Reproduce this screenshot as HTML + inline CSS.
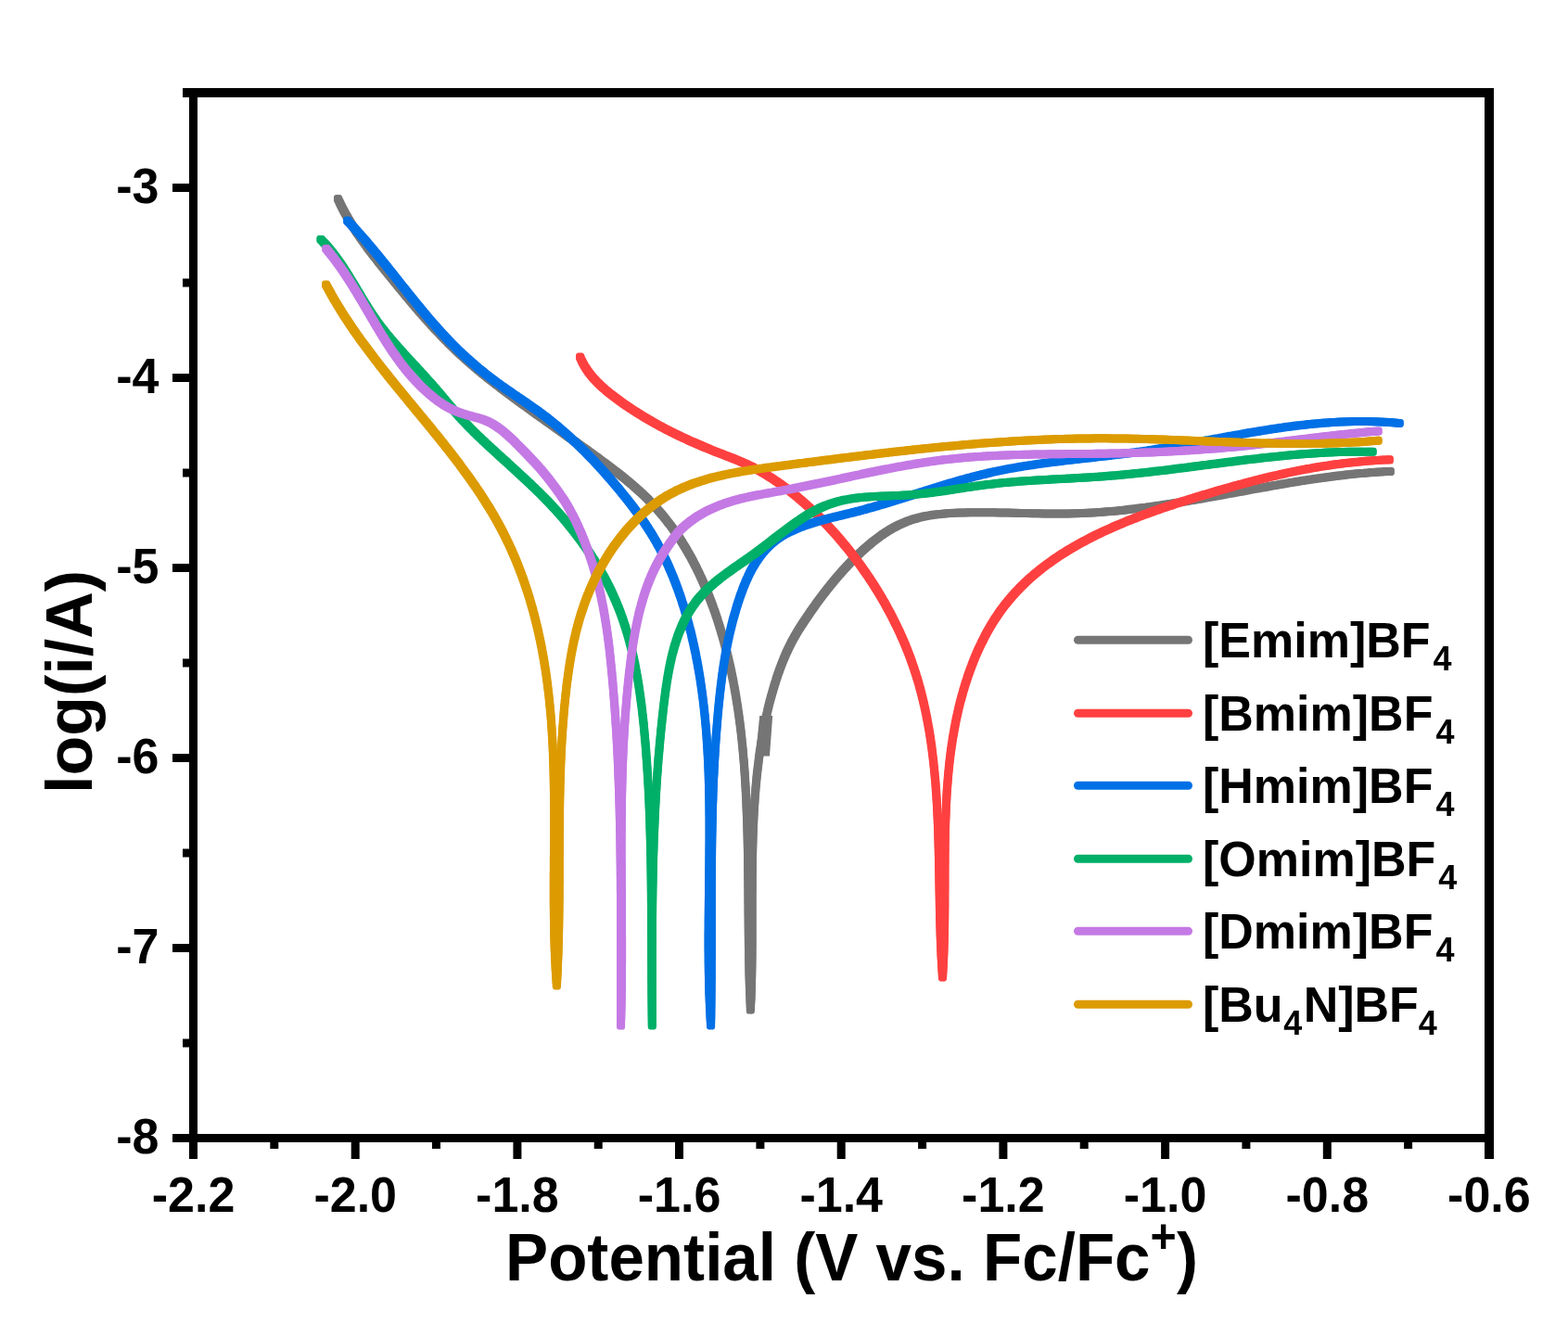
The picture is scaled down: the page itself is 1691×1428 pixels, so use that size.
<!DOCTYPE html>
<html><head><meta charset="utf-8"><style>
html,body{margin:0;padding:0;background:#fff;}
svg{display:block;}
text{font-family:"Liberation Sans", Arial, sans-serif;font-weight:bold;fill:#000;}
</style></head><body>
<svg width="1691" height="1428" viewBox="0 0 1691 1428">
<rect width="1691" height="1428" fill="#fff"/>
<defs>
<path id="c_gray" d="M364.5,214.6 365.6,216.9 366.7,219.2 367.8,221.4 368.9,223.7 370.0,225.9 371.2,228.1 372.4,230.3 373.6,232.5 374.9,234.7 376.1,236.8 377.4,239.0 378.7,241.1 380.0,243.3 381.4,245.4 382.7,247.5 384.1,249.6 385.5,251.7 386.9,253.7 388.3,255.8 389.8,257.8 391.2,259.9 392.7,261.9 394.2,264.0 395.6,266.0 397.1,268.0 398.6,270.0 400.2,272.0 401.7,274.0 403.2,276.0 404.8,277.9 406.3,279.9 407.8,281.9 409.4,283.9 411.0,285.8 412.5,287.8 414.1,289.7 415.7,291.7 417.2,293.6 418.8,295.6 420.4,297.5 422.0,299.5 423.6,301.4 425.1,303.4 426.7,305.3 428.3,307.2 429.9,309.2 431.5,311.1 433.1,313.1 434.7,315.0 436.3,316.9 437.9,318.9 439.5,320.8 441.1,322.7 442.7,324.6 444.3,326.5 445.9,328.5 447.5,330.4 449.2,332.3 450.8,334.2 452.4,336.1 454.1,338.0 455.7,339.9 457.4,341.7 459.0,343.6 460.7,345.5 462.4,347.4 464.1,349.2 465.7,351.1 467.4,352.9 469.1,354.8 470.9,356.6 472.6,358.4 474.3,360.2 476.0,362.0 477.8,363.9 479.5,365.7 481.3,367.4 483.0,369.2 484.8,371.0 486.6,372.8 488.4,374.5 490.2,376.2 492.0,378.0 493.8,379.7 495.6,381.4 497.5,383.1 499.3,384.8 501.2,386.5 503.1,388.2 504.9,389.8 506.8,391.5 508.7,393.1 510.6,394.7 512.5,396.4 514.4,398.0 516.4,399.6 518.3,401.2 520.2,402.8 522.2,404.4 524.1,405.9 526.1,407.5 528.1,409.1 530.0,410.6 532.0,412.1 534.0,413.7 536.0,415.2 537.9,416.7 539.9,418.3 541.9,419.8 543.9,421.3 545.9,422.8 547.9,424.3 550.0,425.8 552.0,427.3 554.0,428.8 556.0,430.3 558.0,431.7 560.0,433.2 562.1,434.7 564.1,436.2 566.1,437.6 568.2,439.1 570.2,440.6 572.2,442.0 574.3,443.5 576.3,445.0 578.3,446.4 580.4,447.9 582.4,449.4 584.4,450.8 586.5,452.3 588.5,453.7 590.6,455.2 592.6,456.6 594.6,458.1 596.7,459.6 598.7,461.0 600.8,462.5 602.8,463.9 604.8,465.4 606.9,466.8 608.9,468.3 611.0,469.7 613.0,471.2 615.1,472.7 617.1,474.1 619.1,475.6 621.2,477.0 623.2,478.5 625.2,479.9 627.3,481.4 629.3,482.9 631.4,484.3 633.4,485.8 635.4,487.3 637.5,488.7 639.5,490.2 641.5,491.7 643.5,493.1 645.6,494.6 647.6,496.1 649.6,497.6 651.6,499.1 653.6,500.5 655.7,502.1 657.7,503.6 659.7,505.1 661.6,506.6 663.6,508.1 665.6,509.7 667.6,511.2 669.5,512.8 671.5,514.3 673.5,515.9 675.4,517.5 677.3,519.1 679.2,520.7 681.2,522.3 683.1,524.0 684.9,525.6 686.8,527.3 688.7,528.9 690.5,530.6 692.4,532.3 694.2,534.1 696.0,535.8 697.8,537.5 699.6,539.3 701.3,541.1 703.1,542.9 704.8,544.7 706.5,546.6 708.2,548.4 709.8,550.3 711.5,552.2 713.1,554.1 714.7,556.0 716.3,557.9 717.9,559.9 719.4,561.9 721.0,563.9 722.5,565.9 724.0,567.9 725.5,569.9 726.9,571.9 728.3,574.0 729.8,576.0 731.2,578.1 732.6,580.2 733.9,582.3 735.3,584.4 736.6,586.6 737.9,588.7 739.2,590.8 740.5,593.0 741.7,595.2 743.0,597.3 744.2,599.5 745.4,601.7 746.6,603.9 747.8,606.1 748.9,608.4 750.1,610.6 751.2,612.8 752.3,615.1 753.4,617.3 754.5,619.6 755.5,621.9 756.6,624.1 757.6,626.4 758.6,628.7 759.6,631.0 760.6,633.3 761.6,635.6 762.6,637.9 763.5,640.3 764.4,642.6 765.3,644.9 766.2,647.3 767.1,649.6 768.0,652.0 768.9,654.3 769.7,656.7 770.6,659.0 771.4,661.4 772.2,663.8 773.0,666.2 773.8,668.5 774.5,670.9 775.3,673.3 776.0,675.7 776.8,678.1 777.5,680.5 778.2,682.9 778.9,685.3 779.6,687.7 780.3,690.1 781.0,692.5 781.6,695.0 782.3,697.4 782.9,699.8 783.5,702.2 784.1,704.7 784.7,707.1 785.3,709.5 785.9,712.0 786.4,714.4 787.0,716.9 787.5,719.3 788.1,721.8 788.6,724.2 789.1,726.7 789.6,729.1 790.1,731.6 790.6,734.0 791.1,736.5 791.5,739.0 792.0,741.4 792.4,743.9 792.9,746.4 793.3,748.8 793.7,751.3 794.1,753.8 794.5,756.2 794.9,758.7 795.3,761.2 795.7,763.7 796.0,766.2 796.4,768.6 796.7,771.1 797.1,773.6 797.4,776.1 797.7,778.6 798.1,781.1 798.4,783.5 798.7,786.0 799.0,788.5 799.3,791.0 799.5,793.5 799.8,796.0 800.1,798.5 800.3,801.0 800.6,803.5 800.8,806.0 801.1,808.5 801.3,811.0 801.5,813.5 801.7,816.0 801.9,818.5 802.2,821.0 802.4,823.4 802.5,825.9 802.7,828.4 802.9,830.9 803.1,833.4 803.3,835.9 803.4,838.4 803.6,841.0 803.7,843.5 803.9,846.0 804.0,848.5 804.2,851.0 804.3,853.5 804.4,856.0 804.6,858.5 804.7,861.0 804.8,863.5 804.9,866.0 805.0,868.5 805.1,871.0 805.2,873.5 805.3,876.0 805.4,878.5 805.5,881.0 805.6,883.5 805.7,886.0 805.8,888.5 805.8,891.0 805.9,893.5 806.0,896.0 806.0,898.5 806.1,901.0 806.2,903.6 806.2,906.1 806.3,908.6 806.3,911.1 806.4,913.6 806.4,916.1 806.5,918.6 806.5,921.1 806.5,923.6 806.6,926.1 806.6,928.6 806.6,931.1 806.7,933.6 806.7,936.1 806.7,938.6 806.8,941.1 806.8,943.7 806.8,946.2 806.8,948.7 806.9,951.2 806.9,953.7 806.9,956.2 806.9,958.7 807.0,961.2 807.0,963.7 807.0,966.2 807.0,968.7 807.0,971.2 807.0,973.7 807.1,976.2 807.1,978.7 807.1,981.2 807.1,983.8 807.1,986.3 807.2,988.8 807.2,991.3 807.2,993.8 807.2,996.3 807.2,998.8 807.3,1001.3 807.3,1003.8 807.3,1006.3 807.3,1008.8 807.4,1011.3 807.4,1013.8 807.4,1016.3 807.4,1018.8 807.5,1021.3 807.5,1023.9 807.5,1026.4 807.6,1028.9 807.6,1031.4 807.7,1033.9 807.7,1036.4 807.8,1038.9 807.8,1041.4 807.9,1043.9 807.9,1046.4 808.0,1048.9 808.0,1051.4 808.1,1053.9 808.2,1056.4 808.3,1058.9 808.3,1061.4 808.4,1063.9 808.5,1066.4 808.6,1069.0 808.7,1071.5 808.8,1074.0 808.9,1076.5 809.0,1079.0 809.1,1081.5 809.2,1084.0 809.3,1086.5 809.4,1089.0 809.5,1086.5 809.6,1084.0 809.7,1081.5 809.9,1079.0 810.0,1076.5 810.1,1074.0 810.1,1071.5 810.2,1068.9 810.3,1066.4 810.4,1063.9 810.4,1061.4 810.5,1058.9 810.6,1056.4 810.6,1053.9 810.7,1051.4 810.7,1048.9 810.8,1046.4 810.8,1043.9 810.9,1041.4 810.9,1038.9 810.9,1036.4 811.0,1033.9 811.0,1031.3 811.0,1028.8 811.0,1026.3 811.0,1023.8 811.1,1021.3 811.1,1018.8 811.1,1016.3 811.1,1013.8 811.1,1011.3 811.1,1008.8 811.1,1006.3 811.1,1003.8 811.1,1001.3 811.1,998.7 811.1,996.2 811.1,993.7 811.1,991.2 811.1,988.7 811.1,986.2 811.1,983.7 811.1,981.2 811.1,978.7 811.1,976.2 811.1,973.7 811.1,971.2 811.1,968.7 811.1,966.1 811.1,963.6 811.2,961.1 811.2,958.6 811.2,956.1 811.2,953.6 811.2,951.1 811.2,948.6 811.2,946.1 811.3,943.6 811.3,941.1 811.3,938.6 811.3,936.1 811.4,933.6 811.4,931.0 811.4,928.5 811.5,926.0 811.5,923.5 811.6,921.0 811.6,918.5 811.7,916.0 811.7,913.5 811.8,911.0 811.9,908.5 811.9,906.0 812.0,903.5 812.1,901.0 812.2,898.5 812.3,896.0 812.4,893.4 812.5,890.9 812.6,888.4 812.7,885.9 812.8,883.4 812.9,880.9 813.0,878.4 813.2,875.9 813.3,873.4 813.5,870.9 813.6,868.4 813.8,865.9 814.0,863.4 814.1,860.9 814.3,858.4 814.5,855.9 814.7,853.4 814.9,850.9 815.1,848.4 815.4,845.9 815.6,843.4 815.8,840.9 816.1,838.4 816.3,835.9 816.6,833.4 816.9,830.9 817.2,828.4 817.5,826.0 817.8,823.5 818.1,821.0 818.4,818.5 818.7,816.0 819.1,813.5 819.4,811.0 819.8,808.6 820.2,806.1 820.6,803.6 820.9,801.1 821.4,798.6 821.8,796.2 822.2,793.7 822.6,791.2 823.1,788.8 823.6,786.3 824.0,783.8 824.5,781.4 825.0,778.9 825.5,776.5 826.1,774.0 826.6,771.6 827.2,769.1 827.7,766.7 828.3,764.2 828.9,761.8 829.5,759.4 830.1,756.9 830.8,754.5 831.4,752.1 832.1,749.7 832.8,747.3 833.5,744.9 834.2,742.5 834.9,740.0 835.6,737.7 836.4,735.3 837.1,732.9 837.9,730.5 838.7,728.1 839.5,725.7 840.4,723.4 841.2,721.0 842.1,718.7 843.0,716.3 843.9,714.0 844.8,711.7 845.8,709.3 846.8,707.0 847.8,704.7 848.8,702.5 849.9,700.2 851.0,697.9 852.1,695.7 853.2,693.4 854.4,691.2 855.6,689.0 856.8,686.8 858.1,684.7 859.3,682.5 860.6,680.4 861.9,678.2 863.3,676.1 864.6,674.0 866.0,671.9 867.4,669.8 868.8,667.7 870.2,665.6 871.6,663.6 873.0,661.5 874.4,659.4 875.9,657.4 877.3,655.3 878.8,653.3 880.2,651.2 881.7,649.2 883.2,647.2 884.7,645.2 886.2,643.2 887.7,641.2 889.2,639.2 890.8,637.2 892.3,635.2 893.9,633.3 895.4,631.3 897.0,629.4 898.6,627.4 900.2,625.5 901.8,623.6 903.5,621.7 905.1,619.8 906.8,617.9 908.4,616.0 910.1,614.2 911.8,612.3 913.5,610.5 915.2,608.6 916.9,606.8 918.7,605.0 920.5,603.2 922.2,601.5 924.0,599.7 925.8,598.0 927.6,596.2 929.5,594.5 931.3,592.8 933.2,591.2 935.1,589.5 937.0,587.9 938.9,586.3 940.8,584.7 942.8,583.1 944.8,581.6 946.8,580.1 948.8,578.6 950.8,577.1 952.9,575.7 955.0,574.3 957.1,573.0 959.3,571.7 961.4,570.4 963.6,569.2 965.8,568.0 968.0,566.8 970.3,565.7 972.6,564.7 974.9,563.7 977.2,562.7 979.5,561.8 981.9,561.0 984.3,560.2 986.7,559.5 989.1,558.8 991.5,558.2 993.9,557.6 996.4,557.0 998.9,556.5 1001.3,556.1 1003.8,555.7 1006.3,555.3 1008.8,555.0 1011.2,554.7 1013.7,554.4 1016.2,554.2 1018.7,553.9 1021.2,553.7 1023.7,553.6 1026.2,553.4 1028.7,553.3 1031.2,553.2 1033.8,553.1 1036.3,553.0 1038.8,552.9 1041.3,552.9 1043.8,552.8 1046.3,552.8 1048.8,552.7 1051.3,552.7 1053.8,552.7 1056.3,552.7 1058.8,552.7 1061.3,552.7 1063.8,552.7 1066.3,552.7 1068.9,552.8 1071.4,552.8 1073.9,552.8 1076.4,552.9 1078.9,552.9 1081.4,553.0 1083.9,553.0 1086.4,553.1 1088.9,553.1 1091.4,553.2 1093.9,553.2 1096.4,553.3 1098.9,553.4 1101.4,553.4 1104.0,553.5 1106.5,553.5 1109.0,553.6 1111.5,553.7 1114.0,553.7 1116.5,553.8 1119.0,553.8 1121.5,553.8 1124.0,553.9 1126.5,553.9 1129.0,554.0 1131.5,554.0 1134.0,554.0 1136.5,554.0 1139.1,554.0 1141.6,554.0 1144.1,554.0 1146.6,554.0 1149.1,554.0 1151.6,553.9 1154.1,553.9 1156.6,553.8 1159.1,553.8 1161.6,553.7 1164.1,553.6 1166.6,553.5 1169.1,553.4 1171.6,553.3 1174.1,553.2 1176.6,553.0 1179.2,552.9 1181.7,552.7 1184.2,552.6 1186.7,552.4 1189.2,552.2 1191.7,552.0 1194.2,551.8 1196.7,551.6 1199.2,551.4 1201.7,551.2 1204.1,550.9 1206.6,550.7 1209.1,550.4 1211.6,550.2 1214.1,549.9 1216.6,549.6 1219.1,549.3 1221.6,549.0 1224.1,548.8 1226.6,548.4 1229.1,548.1 1231.6,547.8 1234.0,547.5 1236.5,547.2 1239.0,546.8 1241.5,546.5 1244.0,546.1 1246.5,545.8 1248.9,545.4 1251.4,545.1 1253.9,544.7 1256.4,544.3 1258.9,543.9 1261.3,543.5 1263.8,543.2 1266.3,542.8 1268.8,542.4 1271.2,542.0 1273.7,541.6 1276.2,541.1 1278.7,540.7 1281.1,540.3 1283.6,539.9 1286.1,539.5 1288.6,539.0 1291.0,538.6 1293.5,538.2 1296.0,537.8 1298.4,537.3 1300.9,536.9 1303.4,536.4 1305.8,536.0 1308.3,535.6 1310.8,535.1 1313.2,534.7 1315.7,534.2 1318.2,533.8 1320.6,533.3 1323.1,532.9 1325.6,532.4 1328.0,532.0 1330.5,531.5 1333.0,531.1 1335.4,530.6 1337.9,530.2 1340.4,529.7 1342.8,529.2 1345.3,528.8 1347.8,528.3 1350.2,527.9 1352.7,527.4 1355.2,527.0 1357.6,526.6 1360.1,526.1 1362.6,525.7 1365.0,525.2 1367.5,524.8 1370.0,524.3 1372.5,523.9 1374.9,523.5 1377.4,523.1 1379.9,522.6 1382.3,522.2 1384.8,521.8 1387.3,521.4 1389.8,520.9 1392.2,520.5 1394.7,520.1 1397.2,519.7 1399.7,519.3 1402.1,518.9 1404.6,518.5 1407.1,518.1 1409.6,517.8 1412.0,517.4 1414.5,517.0 1417.0,516.6 1419.5,516.3 1422.0,515.9 1424.4,515.6 1426.9,515.2 1429.4,514.9 1431.9,514.6 1434.4,514.2 1436.9,513.9 1439.4,513.6 1441.8,513.3 1444.3,513.0 1446.8,512.7 1449.3,512.4 1451.8,512.1 1454.3,511.8 1456.8,511.6 1459.3,511.3 1461.8,511.1 1464.3,510.8 1466.8,510.6 1469.3,510.4 1471.8,510.2 1474.3,509.9 1476.8,509.8 1479.3,509.6 1481.8,509.4 1484.3,509.2 1486.8,509.0 1489.3,508.9 1491.8,508.8 1494.3,508.6 1496.8,508.5 1499.3,508.4" stroke="#757575"/>
<path id="c_red" d="M625.6,385.1 626.6,387.4 627.7,389.7 628.8,391.9 630.0,394.1 631.3,396.3 632.7,398.4 634.1,400.5 635.6,402.5 637.1,404.5 638.7,406.4 640.4,408.3 642.1,410.1 643.8,412.0 645.6,413.7 647.4,415.5 649.2,417.2 651.1,418.8 653.0,420.5 654.9,422.1 656.8,423.7 658.8,425.3 660.8,426.8 662.8,428.3 664.8,429.8 666.8,431.3 668.8,432.8 670.9,434.2 672.9,435.7 675.0,437.1 677.1,438.5 679.2,439.9 681.2,441.3 683.3,442.7 685.5,444.0 687.6,445.4 689.7,446.7 691.8,448.0 694.0,449.3 696.1,450.6 698.3,451.9 700.5,453.2 702.6,454.4 704.8,455.6 707.0,456.9 709.2,458.1 711.4,459.3 713.6,460.5 715.8,461.6 718.0,462.8 720.3,464.0 722.5,465.1 724.7,466.2 727.0,467.4 729.2,468.5 731.5,469.6 733.8,470.6 736.0,471.7 738.3,472.8 740.6,473.8 742.9,474.9 745.1,475.9 747.4,476.9 749.7,477.9 752.0,478.9 754.3,479.9 756.6,480.9 758.9,481.9 761.3,482.9 763.6,483.8 765.9,484.8 768.2,485.7 770.6,486.7 772.9,487.6 775.2,488.5 777.6,489.4 779.9,490.3 782.2,491.2 784.6,492.1 786.9,493.0 789.2,493.9 791.6,494.9 793.9,495.8 796.2,496.8 798.5,497.7 800.8,498.7 803.1,499.8 805.4,500.8 807.7,501.9 809.9,503.0 812.2,504.1 814.4,505.3 816.6,506.5 818.8,507.7 821.0,508.9 823.1,510.2 825.3,511.4 827.5,512.7 829.6,514.1 831.7,515.4 833.8,516.8 835.9,518.2 838.0,519.6 840.0,521.0 842.1,522.4 844.1,523.9 846.2,525.4 848.2,526.9 850.2,528.4 852.2,529.9 854.1,531.5 856.1,533.0 858.0,534.6 860.0,536.2 861.9,537.8 863.8,539.4 865.7,541.1 867.6,542.7 869.5,544.4 871.3,546.1 873.2,547.7 875.0,549.4 876.9,551.2 878.7,552.9 880.5,554.6 882.3,556.4 884.1,558.1 885.8,559.9 887.6,561.7 889.4,563.5 891.1,565.3 892.8,567.1 894.5,569.0 896.2,570.8 897.9,572.7 899.6,574.5 901.3,576.4 902.9,578.3 904.6,580.2 906.2,582.1 907.8,584.0 909.4,585.9 911.0,587.9 912.6,589.8 914.2,591.8 915.8,593.7 917.3,595.7 918.9,597.7 920.4,599.6 921.9,601.6 923.4,603.6 924.9,605.7 926.4,607.7 927.9,609.7 929.3,611.7 930.8,613.8 932.2,615.8 933.7,617.9 935.1,620.0 936.5,622.0 937.9,624.1 939.3,626.2 940.6,628.3 942.0,630.4 943.3,632.5 944.7,634.7 946.0,636.8 947.3,638.9 948.6,641.1 949.9,643.2 951.2,645.4 952.4,647.6 953.7,649.7 954.9,651.9 956.1,654.1 957.3,656.3 958.5,658.5 959.7,660.7 960.9,663.0 962.1,665.2 963.2,667.4 964.3,669.7 965.4,671.9 966.5,674.1 967.6,676.4 968.7,678.7 969.8,680.9 970.8,683.2 971.8,685.5 972.9,687.8 973.9,690.1 974.9,692.4 975.8,694.7 976.8,697.0 977.7,699.4 978.7,701.7 979.6,704.0 980.5,706.4 981.4,708.7 982.2,711.1 983.1,713.4 983.9,715.8 984.7,718.2 985.6,720.5 986.3,722.9 987.1,725.3 987.9,727.7 988.6,730.1 989.4,732.5 990.1,734.9 990.8,737.3 991.4,739.7 992.1,742.1 992.8,744.6 993.4,747.0 994.0,749.4 994.6,751.8 995.2,754.3 995.8,756.7 996.4,759.2 996.9,761.6 997.5,764.1 998.0,766.5 998.5,769.0 999.0,771.4 999.5,773.9 1000.0,776.3 1000.4,778.8 1000.9,781.3 1001.3,783.8 1001.8,786.2 1002.2,788.7 1002.6,791.2 1003.0,793.7 1003.4,796.1 1003.7,798.6 1004.1,801.1 1004.4,803.6 1004.8,806.1 1005.1,808.5 1005.4,811.0 1005.7,813.5 1006.0,816.0 1006.3,818.5 1006.6,821.0 1006.9,823.5 1007.1,826.0 1007.4,828.5 1007.6,831.0 1007.9,833.5 1008.1,836.0 1008.3,838.5 1008.6,841.0 1008.8,843.5 1009.0,846.0 1009.2,848.5 1009.3,851.0 1009.5,853.5 1009.7,856.0 1009.9,858.5 1010.0,861.0 1010.2,863.5 1010.3,866.0 1010.5,868.5 1010.6,871.0 1010.7,873.5 1010.8,876.0 1011.0,878.5 1011.1,881.0 1011.2,883.5 1011.3,886.0 1011.4,888.5 1011.5,891.0 1011.6,893.6 1011.7,896.1 1011.8,898.6 1011.8,901.1 1011.9,903.6 1012.0,906.1 1012.1,908.6 1012.1,911.1 1012.2,913.6 1012.3,916.1 1012.3,918.6 1012.4,921.1 1012.4,923.6 1012.5,926.1 1012.5,928.7 1012.6,931.2 1012.6,933.7 1012.7,936.2 1012.7,938.7 1012.8,941.2 1012.8,943.7 1012.9,946.2 1012.9,948.7 1012.9,951.2 1013.0,953.7 1013.0,956.2 1013.1,958.8 1013.1,961.3 1013.2,963.8 1013.2,966.3 1013.3,968.8 1013.3,971.3 1013.3,973.8 1013.4,976.3 1013.4,978.8 1013.5,981.3 1013.5,983.8 1013.6,986.3 1013.7,988.8 1013.7,991.4 1013.8,993.9 1013.8,996.4 1013.9,998.9 1014.0,1001.4 1014.1,1003.9 1014.1,1006.4 1014.2,1008.9 1014.3,1011.4 1014.4,1013.9 1014.5,1016.4 1014.6,1018.9 1014.7,1021.4 1014.8,1023.9 1014.9,1026.4 1015.0,1029.0 1015.1,1031.5 1015.3,1034.0 1015.4,1036.5 1015.5,1039.0 1015.7,1041.5 1015.8,1044.0 1016.0,1046.5 1016.2,1049.0 1016.3,1051.5 1016.5,1054.0 1016.7,1051.5 1016.8,1049.0 1017.0,1046.5 1017.1,1044.0 1017.2,1041.5 1017.4,1039.0 1017.5,1036.5 1017.6,1034.0 1017.7,1031.5 1017.8,1029.0 1017.9,1026.5 1018.0,1023.9 1018.0,1021.4 1018.1,1018.9 1018.2,1016.4 1018.3,1013.9 1018.3,1011.4 1018.4,1008.9 1018.4,1006.4 1018.5,1003.9 1018.5,1001.4 1018.6,998.9 1018.6,996.4 1018.6,993.9 1018.7,991.4 1018.7,988.9 1018.7,986.3 1018.7,983.8 1018.8,981.3 1018.8,978.8 1018.8,976.3 1018.8,973.8 1018.8,971.3 1018.8,968.8 1018.8,966.3 1018.8,963.8 1018.8,961.3 1018.9,958.8 1018.9,956.3 1018.9,953.8 1018.9,951.2 1018.9,948.7 1018.9,946.2 1018.9,943.7 1018.9,941.2 1018.9,938.7 1018.9,936.2 1018.9,933.7 1019.0,931.2 1019.0,928.7 1019.0,926.2 1019.0,923.7 1019.0,921.2 1019.1,918.7 1019.1,916.1 1019.1,913.6 1019.1,911.1 1019.2,908.6 1019.2,906.1 1019.3,903.6 1019.3,901.1 1019.4,898.6 1019.4,896.1 1019.5,893.6 1019.6,891.1 1019.6,888.6 1019.7,886.1 1019.8,883.6 1019.9,881.1 1020.0,878.5 1020.1,876.0 1020.2,873.5 1020.3,871.0 1020.4,868.5 1020.5,866.0 1020.7,863.5 1020.8,861.0 1020.9,858.5 1021.1,856.0 1021.2,853.5 1021.4,851.0 1021.6,848.5 1021.8,846.0 1022.0,843.5 1022.2,841.0 1022.4,838.5 1022.6,836.0 1022.8,833.5 1023.1,831.0 1023.3,828.5 1023.6,826.0 1023.8,823.5 1024.1,821.0 1024.4,818.6 1024.7,816.1 1025.0,813.6 1025.3,811.1 1025.7,808.6 1026.0,806.1 1026.4,803.6 1026.8,801.2 1027.1,798.7 1027.5,796.2 1027.9,793.7 1028.4,791.3 1028.8,788.8 1029.2,786.3 1029.7,783.9 1030.2,781.4 1030.6,778.9 1031.1,776.5 1031.6,774.0 1032.2,771.6 1032.7,769.1 1033.3,766.7 1033.8,764.2 1034.4,761.8 1035.0,759.4 1035.6,756.9 1036.3,754.5 1036.9,752.1 1037.6,749.7 1038.3,747.3 1038.9,744.8 1039.7,742.4 1040.4,740.0 1041.1,737.6 1041.9,735.3 1042.7,732.9 1043.4,730.5 1044.2,728.1 1045.1,725.7 1045.9,723.4 1046.8,721.0 1047.7,718.7 1048.5,716.3 1049.5,714.0 1050.4,711.7 1051.3,709.4 1052.3,707.0 1053.3,704.7 1054.3,702.4 1055.3,700.2 1056.4,697.9 1057.5,695.6 1058.5,693.4 1059.7,691.1 1060.8,688.9 1061.9,686.6 1063.1,684.4 1064.3,682.2 1065.5,680.0 1066.8,677.8 1068.0,675.7 1069.3,673.5 1070.6,671.4 1071.9,669.3 1073.3,667.1 1074.7,665.1 1076.1,663.0 1077.5,660.9 1078.9,658.9 1080.4,656.8 1081.9,654.8 1083.4,652.8 1085.0,650.9 1086.6,648.9 1088.2,647.0 1089.8,645.1 1091.4,643.2 1093.1,641.3 1094.8,639.4 1096.5,637.6 1098.2,635.8 1099.9,634.0 1101.7,632.2 1103.5,630.5 1105.3,628.7 1107.1,627.0 1109.0,625.3 1110.8,623.6 1112.7,622.0 1114.6,620.3 1116.5,618.7 1118.5,617.1 1120.4,615.5 1122.4,613.9 1124.3,612.4 1126.3,610.9 1128.3,609.4 1130.3,607.9 1132.4,606.4 1134.4,605.0 1136.5,603.5 1138.5,602.1 1140.6,600.7 1142.7,599.3 1144.8,597.9 1146.9,596.6 1149.1,595.3 1151.2,593.9 1153.3,592.6 1155.5,591.4 1157.6,590.1 1159.8,588.8 1162.0,587.6 1164.2,586.4 1166.4,585.2 1168.6,584.0 1170.8,582.8 1173.0,581.6 1175.2,580.5 1177.5,579.3 1179.7,578.2 1182.0,577.1 1184.2,576.0 1186.5,574.9 1188.7,573.8 1191.0,572.8 1193.3,571.7 1195.6,570.7 1197.9,569.7 1200.1,568.6 1202.4,567.6 1204.7,566.6 1207.1,565.7 1209.4,564.7 1211.7,563.7 1214.0,562.8 1216.3,561.8 1218.7,560.9 1221.0,560.0 1223.3,559.1 1225.7,558.2 1228.0,557.3 1230.3,556.4 1232.7,555.5 1235.0,554.6 1237.4,553.8 1239.8,552.9 1242.1,552.1 1244.5,551.2 1246.8,550.4 1249.2,549.6 1251.6,548.7 1254.0,547.9 1256.3,547.1 1258.7,546.3 1261.1,545.5 1263.5,544.8 1265.8,544.0 1268.2,543.2 1270.6,542.4 1273.0,541.7 1275.4,540.9 1277.8,540.1 1280.2,539.4 1282.6,538.6 1285.0,537.9 1287.4,537.2 1289.8,536.4 1292.1,535.7 1294.5,535.0 1296.9,534.2 1299.3,533.5 1301.8,532.8 1304.2,532.1 1306.6,531.4 1309.0,530.6 1311.4,529.9 1313.8,529.2 1316.2,528.5 1318.6,527.8 1321.0,527.1 1323.4,526.5 1325.8,525.8 1328.2,525.1 1330.6,524.4 1333.1,523.7 1335.5,523.1 1337.9,522.4 1340.3,521.8 1342.7,521.1 1345.2,520.5 1347.6,519.8 1350.0,519.2 1352.4,518.6 1354.9,517.9 1357.3,517.3 1359.7,516.7 1362.2,516.1 1364.6,515.5 1367.0,514.9 1369.5,514.3 1371.9,513.8 1374.4,513.2 1376.8,512.6 1379.2,512.1 1381.7,511.5 1384.1,511.0 1386.6,510.4 1389.0,509.9 1391.5,509.4 1393.9,508.9 1396.4,508.4 1398.9,507.9 1401.3,507.4 1403.8,506.9 1406.2,506.4 1408.7,506.0 1411.2,505.5 1413.6,505.1 1416.1,504.6 1418.6,504.2 1421.0,503.8 1423.5,503.4 1426.0,503.0 1428.5,502.6 1431.0,502.2 1433.4,501.9 1435.9,501.5 1438.4,501.1 1440.9,500.8 1443.4,500.5 1445.9,500.2 1448.3,499.8 1450.8,499.5 1453.3,499.3 1455.8,499.0 1458.3,498.7 1460.8,498.4 1463.3,498.2 1465.8,498.0 1468.3,497.7 1470.8,497.5 1473.3,497.3 1475.8,497.1 1478.3,496.9 1480.8,496.7 1483.3,496.6 1485.8,496.4 1488.3,496.3 1490.8,496.1 1493.3,496.0 1495.8,495.9 1498.3,495.8" stroke="#FF4040"/>
<path id="c_blue" d="M374.7,238.1 376.4,239.9 378.2,241.7 379.9,243.6 381.6,245.4 383.3,247.3 384.9,249.1 386.6,251.0 388.3,252.9 390.0,254.8 391.6,256.6 393.3,258.5 394.9,260.4 396.5,262.3 398.1,264.3 399.8,266.2 401.4,268.1 403.0,270.0 404.6,272.0 406.2,273.9 407.8,275.8 409.4,277.8 411.0,279.7 412.5,281.7 414.1,283.6 415.7,285.6 417.3,287.5 418.8,289.5 420.4,291.5 422.0,293.4 423.5,295.4 425.1,297.3 426.6,299.3 428.2,301.3 429.8,303.2 431.3,305.2 432.9,307.2 434.4,309.1 436.0,311.1 437.6,313.1 439.1,315.0 440.7,317.0 442.3,318.9 443.9,320.9 445.4,322.8 447.0,324.8 448.6,326.7 450.2,328.7 451.8,330.6 453.4,332.6 455.0,334.5 456.6,336.4 458.2,338.4 459.8,340.3 461.4,342.2 463.0,344.1 464.7,346.0 466.3,347.9 468.0,349.8 469.6,351.7 471.3,353.5 473.0,355.4 474.7,357.3 476.3,359.1 478.0,361.0 479.8,362.8 481.5,364.6 483.2,366.5 484.9,368.3 486.7,370.1 488.5,371.9 490.2,373.6 492.0,375.4 493.8,377.2 495.6,378.9 497.4,380.6 499.2,382.4 501.1,384.1 502.9,385.8 504.8,387.4 506.7,389.1 508.6,390.8 510.5,392.4 512.4,394.0 514.3,395.7 516.2,397.3 518.2,398.9 520.1,400.4 522.1,402.0 524.0,403.6 526.0,405.1 528.0,406.6 530.0,408.2 532.0,409.7 534.0,411.2 536.0,412.7 538.1,414.1 540.1,415.6 542.1,417.1 544.2,418.5 546.2,420.0 548.3,421.4 550.4,422.8 552.4,424.2 554.5,425.7 556.6,427.1 558.6,428.5 560.7,429.9 562.8,431.3 564.9,432.7 566.9,434.1 569.0,435.6 571.1,437.0 573.1,438.4 575.2,439.9 577.2,441.3 579.3,442.8 581.3,444.3 583.3,445.7 585.3,447.2 587.3,448.8 589.3,450.3 591.3,451.8 593.3,453.4 595.2,455.0 597.2,456.5 599.1,458.1 601.1,459.7 603.0,461.3 604.9,463.0 606.8,464.6 608.7,466.3 610.6,467.9 612.4,469.6 614.3,471.3 616.1,473.0 618.0,474.7 619.8,476.4 621.6,478.1 623.4,479.9 625.3,481.6 627.0,483.4 628.8,485.1 630.6,486.9 632.4,488.7 634.1,490.5 635.9,492.3 637.6,494.1 639.4,495.9 641.1,497.7 642.8,499.5 644.5,501.4 646.2,503.2 647.9,505.1 649.6,506.9 651.3,508.8 652.9,510.7 654.6,512.6 656.2,514.5 657.9,516.3 659.5,518.2 661.2,520.2 662.8,522.1 664.4,524.0 666.0,525.9 667.6,527.8 669.2,529.8 670.8,531.7 672.4,533.7 674.0,535.6 675.5,537.6 677.1,539.5 678.6,541.5 680.2,543.5 681.7,545.5 683.2,547.5 684.7,549.5 686.2,551.5 687.7,553.5 689.2,555.6 690.6,557.6 692.1,559.7 693.5,561.7 694.9,563.8 696.3,565.9 697.7,568.0 699.1,570.1 700.4,572.2 701.8,574.3 703.1,576.5 704.4,578.6 705.7,580.8 706.9,582.9 708.2,585.1 709.4,587.3 710.6,589.5 711.8,591.7 712.9,593.9 714.1,596.2 715.2,598.4 716.3,600.7 717.4,602.9 718.5,605.2 719.6,607.5 720.6,609.7 721.6,612.0 722.6,614.3 723.6,616.6 724.6,619.0 725.6,621.3 726.5,623.6 727.4,625.9 728.3,628.3 729.2,630.6 730.1,633.0 731.0,635.3 731.8,637.7 732.6,640.0 733.5,642.4 734.3,644.8 735.1,647.2 735.8,649.6 736.6,652.0 737.4,654.4 738.1,656.8 738.8,659.2 739.5,661.6 740.2,664.0 740.9,666.4 741.6,668.8 742.2,671.2 742.9,673.7 743.5,676.1 744.1,678.5 744.8,680.9 745.4,683.4 745.9,685.8 746.5,688.3 747.1,690.7 747.6,693.2 748.2,695.6 748.7,698.1 749.2,700.5 749.8,703.0 750.3,705.4 750.7,707.9 751.2,710.3 751.7,712.8 752.2,715.3 752.6,717.8 753.0,720.2 753.5,722.7 753.9,725.2 754.3,727.6 754.7,730.1 755.1,732.6 755.5,735.1 755.8,737.6 756.2,740.0 756.6,742.5 756.9,745.0 757.2,747.5 757.6,750.0 757.9,752.5 758.2,755.0 758.5,757.5 758.8,760.0 759.1,762.4 759.3,764.9 759.6,767.4 759.9,769.9 760.1,772.4 760.4,774.9 760.6,777.4 760.8,779.9 761.1,782.4 761.3,784.9 761.5,787.4 761.7,789.9 761.9,792.4 762.1,794.9 762.2,797.4 762.4,799.9 762.6,802.4 762.7,805.0 762.9,807.5 763.0,810.0 763.2,812.5 763.3,815.0 763.4,817.5 763.6,820.0 763.7,822.5 763.8,825.0 763.9,827.5 764.0,830.0 764.1,832.5 764.2,835.0 764.3,837.5 764.3,840.0 764.4,842.6 764.5,845.1 764.6,847.6 764.6,850.1 764.7,852.6 764.7,855.1 764.8,857.6 764.8,860.1 764.9,862.6 764.9,865.1 764.9,867.6 765.0,870.2 765.0,872.7 765.0,875.2 765.0,877.7 765.1,880.2 765.1,882.7 765.1,885.2 765.1,887.7 765.1,890.2 765.1,892.7 765.1,895.2 765.1,897.8 765.1,900.3 765.1,902.8 765.1,905.3 765.1,907.8 765.1,910.3 765.0,912.8 765.0,915.3 765.0,917.8 765.0,920.3 765.0,922.9 764.9,925.4 764.9,927.9 764.9,930.4 764.9,932.9 764.8,935.4 764.8,937.9 764.8,940.4 764.8,942.9 764.7,945.4 764.7,947.9 764.7,950.5 764.6,953.0 764.6,955.5 764.6,958.0 764.6,960.5 764.5,963.0 764.5,965.5 764.5,968.0 764.4,970.5 764.4,973.0 764.4,975.6 764.4,978.1 764.3,980.6 764.3,983.1 764.3,985.6 764.3,988.1 764.2,990.6 764.2,993.1 764.2,995.6 764.2,998.1 764.2,1000.6 764.2,1003.2 764.1,1005.7 764.1,1008.2 764.1,1010.7 764.1,1013.2 764.1,1015.7 764.1,1018.2 764.1,1020.7 764.1,1023.2 764.1,1025.7 764.2,1028.3 764.2,1030.8 764.2,1033.3 764.2,1035.8 764.2,1038.3 764.3,1040.8 764.3,1043.3 764.3,1045.8 764.4,1048.3 764.4,1050.8 764.5,1053.3 764.5,1055.9 764.6,1058.4 764.6,1060.9 764.7,1063.4 764.8,1065.9 764.8,1068.4 764.9,1070.9 765.0,1073.4 765.1,1075.9 765.2,1078.4 765.3,1080.9 765.4,1083.4 765.5,1086.0 765.6,1088.5 765.7,1091.0 765.9,1093.5 766.0,1096.0 766.1,1098.5 766.3,1101.0 766.4,1103.5 766.6,1106.0 766.6,1103.5 766.7,1101.0 766.7,1098.5 766.8,1096.0 766.8,1093.5 766.8,1090.9 766.9,1088.4 766.9,1085.9 766.9,1083.4 767.0,1080.9 767.0,1078.4 767.0,1075.9 767.0,1073.4 767.1,1070.9 767.1,1068.4 767.1,1065.8 767.1,1063.3 767.1,1060.8 767.2,1058.3 767.2,1055.8 767.2,1053.3 767.2,1050.8 767.2,1048.3 767.2,1045.8 767.2,1043.3 767.2,1040.7 767.2,1038.2 767.2,1035.7 767.3,1033.2 767.3,1030.7 767.3,1028.2 767.3,1025.7 767.3,1023.2 767.3,1020.7 767.3,1018.2 767.3,1015.7 767.3,1013.1 767.3,1010.6 767.3,1008.1 767.3,1005.6 767.3,1003.1 767.3,1000.6 767.3,998.1 767.3,995.6 767.3,993.1 767.3,990.6 767.3,988.0 767.3,985.5 767.3,983.0 767.3,980.5 767.3,978.0 767.3,975.5 767.3,973.0 767.3,970.5 767.3,968.0 767.3,965.5 767.3,962.9 767.3,960.4 767.3,957.9 767.3,955.4 767.3,952.9 767.4,950.4 767.4,947.9 767.4,945.4 767.4,942.9 767.4,940.4 767.4,937.8 767.4,935.3 767.5,932.8 767.5,930.3 767.5,927.8 767.5,925.3 767.6,922.8 767.6,920.3 767.6,917.8 767.6,915.3 767.7,912.8 767.7,910.2 767.7,907.7 767.8,905.2 767.8,902.7 767.9,900.2 767.9,897.7 768.0,895.2 768.0,892.7 768.1,890.2 768.1,887.7 768.2,885.2 768.2,882.6 768.3,880.1 768.3,877.6 768.4,875.1 768.5,872.6 768.5,870.1 768.6,867.6 768.7,865.1 768.8,862.6 768.9,860.1 768.9,857.6 769.0,855.0 769.1,852.5 769.2,850.0 769.3,847.5 769.4,845.0 769.5,842.5 769.6,840.0 769.7,837.5 769.9,835.0 770.0,832.5 770.1,830.0 770.2,827.5 770.4,825.0 770.5,822.5 770.6,819.9 770.8,817.4 770.9,814.9 771.1,812.4 771.2,809.9 771.4,807.4 771.5,804.9 771.7,802.4 771.9,799.9 772.0,797.4 772.2,794.9 772.4,792.4 772.6,789.9 772.8,787.4 773.0,784.9 773.2,782.4 773.4,779.9 773.6,777.4 773.8,774.9 774.0,772.4 774.2,769.9 774.5,767.4 774.7,764.9 774.9,762.4 775.2,759.9 775.4,757.4 775.7,754.9 776.0,752.4 776.2,749.9 776.5,747.4 776.8,744.9 777.1,742.4 777.4,739.9 777.7,737.4 778.0,734.9 778.3,732.5 778.6,730.0 779.0,727.5 779.3,725.0 779.7,722.5 780.0,720.0 780.4,717.6 780.8,715.1 781.2,712.6 781.6,710.1 782.0,707.6 782.5,705.2 782.9,702.7 783.4,700.2 783.8,697.8 784.3,695.3 784.8,692.8 785.3,690.4 785.9,687.9 786.4,685.5 786.9,683.0 787.5,680.6 788.1,678.1 788.7,675.7 789.3,673.3 789.9,670.8 790.5,668.4 791.2,666.0 791.9,663.6 792.6,661.2 793.3,658.7 794.0,656.3 794.7,653.9 795.5,651.5 796.2,649.2 797.0,646.8 797.8,644.4 798.6,642.0 799.5,639.7 800.4,637.3 801.2,635.0 802.1,632.6 803.1,630.3 804.0,628.0 805.0,625.7 806.1,623.4 807.1,621.1 808.2,618.8 809.3,616.6 810.5,614.4 811.7,612.2 813.0,610.0 814.3,607.9 815.6,605.7 817.0,603.6 818.4,601.6 819.9,599.6 821.4,597.6 823.0,595.6 824.7,593.7 826.4,591.9 828.1,590.1 829.9,588.3 831.7,586.6 833.6,585.0 835.6,583.4 837.6,581.9 839.6,580.4 841.7,579.0 843.8,577.7 846.0,576.4 848.2,575.2 850.4,574.1 852.7,573.0 855.0,571.9 857.3,570.9 859.6,569.9 861.9,569.0 864.3,568.1 866.6,567.2 869.0,566.4 871.4,565.6 873.7,564.8 876.1,564.1 878.5,563.3 880.9,562.6 883.4,561.9 885.8,561.3 888.2,560.6 890.6,560.0 893.1,559.3 895.5,558.7 897.9,558.1 900.4,557.5 902.8,556.9 905.2,556.3 907.7,555.7 910.1,555.1 912.6,554.5 915.0,553.9 917.4,553.3 919.9,552.7 922.3,552.1 924.7,551.5 927.2,550.9 929.6,550.2 932.0,549.6 934.4,548.9 936.8,548.2 939.3,547.5 941.7,546.9 944.1,546.2 946.5,545.5 948.9,544.7 951.3,544.0 953.7,543.3 956.1,542.6 958.5,541.9 960.9,541.1 963.3,540.4 965.7,539.7 968.1,538.9 970.5,538.2 972.9,537.4 975.3,536.7 977.7,535.9 980.1,535.2 982.5,534.4 984.9,533.6 987.3,532.9 989.7,532.1 992.0,531.4 994.4,530.6 996.8,529.9 999.2,529.1 1001.6,528.3 1004.0,527.6 1006.4,526.9 1008.8,526.1 1011.2,525.4 1013.6,524.6 1016.0,523.9 1018.4,523.2 1020.8,522.4 1023.2,521.7 1025.6,521.0 1028.0,520.3 1030.4,519.6 1032.8,518.9 1035.3,518.2 1037.7,517.5 1040.1,516.8 1042.5,516.2 1044.9,515.5 1047.4,514.9 1049.8,514.2 1052.2,513.6 1054.6,513.0 1057.1,512.3 1059.5,511.7 1061.9,511.2 1064.4,510.6 1066.8,510.0 1069.3,509.4 1071.7,508.9 1074.2,508.4 1076.6,507.9 1079.1,507.4 1081.6,506.9 1084.0,506.4 1086.5,505.9 1089.0,505.4 1091.4,505.0 1093.9,504.6 1096.4,504.1 1098.8,503.7 1101.3,503.3 1103.8,502.9 1106.3,502.5 1108.8,502.1 1111.2,501.7 1113.7,501.4 1116.2,501.0 1118.7,500.6 1121.2,500.3 1123.7,499.9 1126.1,499.6 1128.6,499.3 1131.1,498.9 1133.6,498.6 1136.1,498.3 1138.6,498.0 1141.1,497.7 1143.6,497.4 1146.1,497.1 1148.6,496.8 1151.0,496.5 1153.5,496.2 1156.0,495.9 1158.5,495.6 1161.0,495.4 1163.5,495.1 1166.0,494.8 1168.5,494.5 1171.0,494.2 1173.5,494.0 1176.0,493.7 1178.5,493.4 1181.0,493.1 1183.5,492.8 1186.0,492.6 1188.5,492.3 1190.9,492.0 1193.4,491.7 1195.9,491.4 1198.4,491.1 1200.9,490.8 1203.4,490.5 1205.9,490.2 1208.4,489.9 1210.9,489.6 1213.4,489.3 1215.9,489.0 1218.4,488.7 1220.8,488.3 1223.3,488.0 1225.8,487.7 1228.3,487.3 1230.8,487.0 1233.3,486.6 1235.8,486.2 1238.2,485.9 1240.7,485.5 1243.2,485.1 1245.7,484.7 1248.2,484.3 1250.6,483.9 1253.1,483.5 1255.6,483.1 1258.1,482.7 1260.5,482.3 1263.0,481.9 1265.5,481.5 1268.0,481.0 1270.4,480.6 1272.9,480.2 1275.4,479.7 1277.9,479.3 1280.3,478.9 1282.8,478.4 1285.3,478.0 1287.7,477.5 1290.2,477.1 1292.7,476.6 1295.1,476.2 1297.6,475.7 1300.1,475.3 1302.5,474.8 1305.0,474.4 1307.5,473.9 1310.0,473.5 1312.4,473.0 1314.9,472.6 1317.4,472.1 1319.8,471.7 1322.3,471.2 1324.8,470.8 1327.2,470.3 1329.7,469.9 1332.2,469.4 1334.6,469.0 1337.1,468.6 1339.6,468.1 1342.1,467.7 1344.5,467.3 1347.0,466.8 1349.5,466.4 1352.0,466.0 1354.4,465.6 1356.9,465.2 1359.4,464.8 1361.9,464.4 1364.3,464.0 1366.8,463.6 1369.3,463.2 1371.8,462.8 1374.3,462.4 1376.7,462.1 1379.2,461.7 1381.7,461.3 1384.2,461.0 1386.7,460.6 1389.2,460.3 1391.7,460.0 1394.1,459.7 1396.6,459.3 1399.1,459.0 1401.6,458.7 1404.1,458.5 1406.6,458.2 1409.1,457.9 1411.6,457.6 1414.1,457.4 1416.6,457.1 1419.1,456.9 1421.6,456.7 1424.1,456.5 1426.6,456.3 1429.1,456.1 1431.6,455.9 1434.1,455.7 1436.6,455.5 1439.1,455.4 1441.6,455.3 1444.1,455.1 1446.6,455.0 1449.1,454.9 1451.6,454.8 1454.2,454.7 1456.7,454.7 1459.2,454.6 1461.7,454.6 1464.2,454.5 1466.7,454.5 1469.2,454.5 1471.7,454.5 1474.2,454.6 1476.7,454.6 1479.3,454.7 1481.8,454.7 1484.3,454.8 1486.8,454.9 1489.3,455.0 1491.8,455.2 1494.3,455.3 1496.8,455.5 1499.3,455.6 1501.8,455.8 1504.3,456.0 1506.8,456.3 1509.3,456.5" stroke="#0070E6"/>
<path id="c_green" d="M346.0,258.3 347.8,260.1 349.5,261.9 351.2,263.7 352.9,265.6 354.5,267.5 356.1,269.4 357.7,271.4 359.3,273.3 360.8,275.3 362.3,277.3 363.8,279.3 365.2,281.4 366.7,283.4 368.1,285.5 369.5,287.6 370.9,289.7 372.2,291.8 373.6,293.9 374.9,296.0 376.3,298.1 377.6,300.3 378.9,302.4 380.2,304.6 381.5,306.7 382.8,308.9 384.1,311.0 385.3,313.2 386.6,315.3 387.9,317.5 389.2,319.6 390.5,321.8 391.8,323.9 393.1,326.1 394.4,328.2 395.7,330.3 397.0,332.5 398.4,334.6 399.8,336.7 401.1,338.8 402.5,340.9 403.9,343.0 405.4,345.0 406.8,347.1 408.3,349.1 409.8,351.1 411.3,353.1 412.8,355.1 414.4,357.1 415.9,359.0 417.5,361.0 419.1,362.9 420.7,364.8 422.3,366.7 424.0,368.6 425.6,370.5 427.3,372.4 428.9,374.3 430.6,376.2 432.3,378.0 434.0,379.9 435.6,381.8 437.3,383.6 439.0,385.5 440.7,387.3 442.4,389.2 444.1,391.0 445.8,392.9 447.5,394.7 449.2,396.5 450.9,398.4 452.6,400.2 454.3,402.1 456.0,403.9 457.7,405.8 459.4,407.7 461.0,409.5 462.7,411.4 464.4,413.2 466.1,415.1 467.7,417.0 469.4,418.9 471.0,420.8 472.6,422.7 474.3,424.6 475.9,426.5 477.5,428.4 479.1,430.4 480.7,432.3 482.3,434.2 483.9,436.1 485.6,438.0 487.2,439.9 488.8,441.8 490.5,443.7 492.1,445.6 493.8,447.5 495.4,449.4 497.1,451.2 498.8,453.1 500.6,454.9 502.3,456.7 504.0,458.5 505.8,460.3 507.5,462.1 509.3,463.9 511.1,465.7 512.9,467.4 514.7,469.2 516.5,470.9 518.3,472.6 520.1,474.4 521.9,476.1 523.7,477.8 525.6,479.5 527.4,481.2 529.3,482.9 531.1,484.6 533.0,486.3 534.8,488.0 536.7,489.7 538.5,491.4 540.4,493.1 542.2,494.8 544.1,496.4 546.0,498.1 547.8,499.8 549.7,501.5 551.5,503.2 553.4,504.9 555.2,506.6 557.1,508.3 558.9,510.0 560.8,511.7 562.6,513.4 564.4,515.1 566.3,516.8 568.1,518.5 569.9,520.2 571.8,521.9 573.6,523.7 575.4,525.4 577.2,527.1 579.0,528.9 580.8,530.6 582.6,532.4 584.3,534.2 586.1,535.9 587.9,537.7 589.6,539.5 591.4,541.3 593.1,543.1 594.8,545.0 596.5,546.8 598.2,548.6 599.9,550.5 601.6,552.4 603.3,554.2 604.9,556.1 606.6,558.0 608.2,559.9 609.8,561.8 611.4,563.8 613.0,565.7 614.6,567.7 616.2,569.6 617.7,571.6 619.3,573.5 620.8,575.5 622.3,577.5 623.8,579.5 625.3,581.5 626.8,583.6 628.3,585.6 629.7,587.6 631.2,589.7 632.6,591.8 634.0,593.8 635.4,595.9 636.8,598.0 638.2,600.1 639.5,602.2 640.9,604.3 642.2,606.4 643.5,608.6 644.8,610.7 646.1,612.9 647.4,615.1 648.6,617.2 649.8,619.4 651.1,621.6 652.3,623.8 653.4,626.0 654.6,628.2 655.7,630.5 656.9,632.7 658.0,635.0 659.1,637.2 660.1,639.5 661.2,641.8 662.2,644.1 663.2,646.3 664.2,648.7 665.2,651.0 666.1,653.3 667.1,655.6 668.0,658.0 668.9,660.3 669.7,662.6 670.6,665.0 671.4,667.4 672.3,669.7 673.0,672.1 673.8,674.5 674.6,676.9 675.3,679.3 676.1,681.7 676.8,684.1 677.5,686.5 678.1,688.9 678.8,691.3 679.4,693.8 680.1,696.2 680.7,698.6 681.3,701.1 681.9,703.5 682.4,705.9 683.0,708.4 683.5,710.8 684.0,713.3 684.6,715.7 685.1,718.2 685.5,720.7 686.0,723.1 686.5,725.6 686.9,728.1 687.4,730.5 687.8,733.0 688.2,735.5 688.6,737.9 689.0,740.4 689.4,742.9 689.7,745.4 690.1,747.9 690.4,750.3 690.8,752.8 691.1,755.3 691.4,757.8 691.8,760.3 692.1,762.8 692.4,765.3 692.7,767.8 692.9,770.3 693.2,772.7 693.5,775.2 693.8,777.7 694.0,780.2 694.3,782.7 694.5,785.2 694.7,787.7 695.0,790.2 695.2,792.7 695.4,795.2 695.6,797.7 695.9,800.2 696.1,802.7 696.3,805.2 696.5,807.7 696.7,810.2 696.9,812.7 697.0,815.2 697.2,817.7 697.4,820.2 697.6,822.7 697.8,825.2 697.9,827.7 698.1,830.2 698.2,832.7 698.4,835.2 698.6,837.7 698.7,840.2 698.8,842.7 699.0,845.2 699.1,847.7 699.3,850.2 699.4,852.8 699.5,855.3 699.6,857.8 699.8,860.3 699.9,862.8 700.0,865.3 700.1,867.8 700.2,870.3 700.3,872.8 700.4,875.3 700.5,877.8 700.6,880.3 700.7,882.8 700.8,885.3 700.9,887.8 700.9,890.3 701.0,892.8 701.1,895.4 701.2,897.9 701.2,900.4 701.3,902.9 701.4,905.4 701.4,907.9 701.5,910.4 701.6,912.9 701.6,915.4 701.7,917.9 701.7,920.4 701.8,922.9 701.8,925.4 701.9,927.9 701.9,930.5 702.0,933.0 702.0,935.5 702.1,938.0 702.1,940.5 702.1,943.0 702.2,945.5 702.2,948.0 702.2,950.5 702.3,953.0 702.3,955.5 702.3,958.0 702.3,960.5 702.4,963.1 702.4,965.6 702.4,968.1 702.4,970.6 702.4,973.1 702.5,975.6 702.5,978.1 702.5,980.6 702.5,983.1 702.5,985.6 702.5,988.1 702.6,990.6 702.6,993.1 702.6,995.7 702.6,998.2 702.6,1000.7 702.6,1003.2 702.6,1005.7 702.6,1008.2 702.6,1010.7 702.7,1013.2 702.7,1015.7 702.7,1018.2 702.7,1020.7 702.7,1023.2 702.7,1025.8 702.7,1028.3 702.7,1030.8 702.7,1033.3 702.7,1035.8 702.7,1038.3 702.8,1040.8 702.8,1043.3 702.8,1045.8 702.8,1048.3 702.8,1050.8 702.8,1053.3 702.8,1055.8 702.8,1058.4 702.9,1060.9 702.9,1063.4 702.9,1065.9 702.9,1068.4 702.9,1070.9 702.9,1073.4 703.0,1075.9 703.0,1078.4 703.0,1080.9 703.0,1083.4 703.1,1085.9 703.1,1088.4 703.1,1091.0 703.1,1093.5 703.2,1096.0 703.2,1098.5 703.2,1101.0 703.3,1103.5 703.3,1106.0 703.3,1103.5 703.3,1101.0 703.3,1098.5 703.3,1096.0 703.3,1093.5 703.3,1091.0 703.3,1088.5 703.3,1086.0 703.3,1083.5 703.3,1081.0 703.3,1078.4 703.3,1075.9 703.3,1073.4 703.3,1070.9 703.3,1068.4 703.3,1065.9 703.3,1063.4 703.3,1060.9 703.3,1058.4 703.3,1055.9 703.3,1053.4 703.3,1050.9 703.3,1048.4 703.3,1045.9 703.3,1043.4 703.3,1040.9 703.3,1038.4 703.3,1035.9 703.3,1033.4 703.3,1030.8 703.3,1028.3 703.3,1025.8 703.3,1023.3 703.3,1020.8 703.4,1018.3 703.4,1015.8 703.4,1013.3 703.4,1010.8 703.4,1008.3 703.4,1005.8 703.4,1003.3 703.4,1000.8 703.4,998.3 703.5,995.8 703.5,993.3 703.5,990.8 703.5,988.3 703.5,985.8 703.6,983.2 703.6,980.7 703.6,978.2 703.6,975.7 703.7,973.2 703.7,970.7 703.7,968.2 703.8,965.7 703.8,963.2 703.8,960.7 703.9,958.2 703.9,955.7 704.0,953.2 704.0,950.7 704.1,948.2 704.1,945.7 704.2,943.2 704.2,940.7 704.3,938.2 704.3,935.7 704.4,933.2 704.4,930.6 704.5,928.1 704.6,925.6 704.6,923.1 704.7,920.6 704.8,918.1 704.9,915.6 704.9,913.1 705.0,910.6 705.1,908.1 705.2,905.6 705.3,903.1 705.4,900.6 705.5,898.1 705.6,895.6 705.7,893.1 705.8,890.6 705.9,888.1 706.0,885.6 706.1,883.1 706.2,880.6 706.3,878.1 706.4,875.6 706.6,873.1 706.7,870.6 706.8,868.1 707.0,865.6 707.1,863.1 707.2,860.6 707.4,858.1 707.5,855.6 707.7,853.1 707.8,850.6 708.0,848.1 708.1,845.6 708.3,843.1 708.5,840.6 708.6,838.1 708.8,835.6 709.0,833.1 709.2,830.6 709.4,828.1 709.6,825.6 709.7,823.1 709.9,820.6 710.1,818.1 710.3,815.6 710.6,813.1 710.8,810.6 711.0,808.1 711.2,805.6 711.4,803.1 711.6,800.6 711.9,798.1 712.1,795.6 712.4,793.1 712.6,790.6 712.8,788.1 713.1,785.6 713.3,783.1 713.6,780.7 713.9,778.2 714.1,775.7 714.4,773.2 714.7,770.7 715.0,768.2 715.2,765.7 715.5,763.2 715.8,760.7 716.1,758.2 716.4,755.8 716.7,753.3 717.0,750.8 717.4,748.3 717.7,745.8 718.0,743.3 718.4,740.9 718.8,738.4 719.1,735.9 719.5,733.4 719.9,731.0 720.4,728.5 720.8,726.0 721.2,723.6 721.7,721.1 722.2,718.6 722.7,716.2 723.2,713.7 723.8,711.3 724.3,708.9 724.9,706.4 725.5,704.0 726.2,701.6 726.8,699.2 727.5,696.7 728.3,694.3 729.0,692.0 729.8,689.6 730.6,687.2 731.4,684.8 732.3,682.5 733.2,680.2 734.2,677.8 735.2,675.5 736.2,673.2 737.2,671.0 738.3,668.7 739.5,666.5 740.6,664.3 741.9,662.1 743.1,659.9 744.5,657.8 745.8,655.7 747.2,653.6 748.7,651.6 750.1,649.6 751.7,647.6 753.3,645.6 754.9,643.7 756.6,641.9 758.3,640.0 760.0,638.3 761.8,636.5 763.6,634.8 765.5,633.1 767.3,631.4 769.2,629.8 771.1,628.1 773.1,626.5 775.0,625.0 777.0,623.4 779.0,621.9 781.0,620.4 783.0,618.9 785.0,617.4 787.1,616.0 789.1,614.5 791.1,613.1 793.2,611.6 795.2,610.2 797.3,608.8 799.4,607.3 801.4,605.9 803.5,604.5 805.5,603.0 807.6,601.6 809.6,600.1 811.6,598.7 813.7,597.2 815.7,595.7 817.7,594.2 819.7,592.7 821.7,591.2 823.7,589.7 825.7,588.1 827.7,586.6 829.6,585.1 831.6,583.6 833.6,582.0 835.6,580.5 837.6,579.0 839.6,577.5 841.6,575.9 843.6,574.4 845.6,572.9 847.6,571.4 849.6,569.9 851.6,568.4 853.6,566.9 855.6,565.5 857.7,564.0 859.7,562.6 861.8,561.2 863.9,559.7 866.0,558.4 868.1,557.0 870.2,555.7 872.3,554.4 874.5,553.1 876.7,551.9 878.9,550.7 881.1,549.6 883.3,548.4 885.6,547.4 887.9,546.4 890.2,545.4 892.6,544.5 894.9,543.6 897.3,542.8 899.7,542.1 902.1,541.4 904.5,540.7 906.9,540.1 909.4,539.5 911.8,539.0 914.3,538.6 916.7,538.1 919.2,537.7 921.7,537.4 924.2,537.1 926.7,536.8 929.2,536.5 931.7,536.3 934.1,536.1 936.6,535.9 939.1,535.7 941.6,535.5 944.1,535.4 946.7,535.3 949.2,535.2 951.7,535.1 954.2,535.0 956.7,534.9 959.2,534.8 961.7,534.7 964.2,534.6 966.7,534.5 969.2,534.4 971.7,534.3 974.2,534.1 976.7,534.0 979.2,533.9 981.7,533.7 984.2,533.5 986.7,533.3 989.2,533.1 991.7,532.8 994.2,532.6 996.7,532.3 999.1,532.0 1001.6,531.7 1004.1,531.4 1006.6,531.1 1009.1,530.8 1011.6,530.4 1014.0,530.1 1016.5,529.7 1019.0,529.4 1021.5,529.0 1024.0,528.6 1026.4,528.2 1028.9,527.8 1031.4,527.4 1033.9,527.1 1036.3,526.7 1038.8,526.3 1041.3,525.9 1043.8,525.5 1046.2,525.2 1048.7,524.8 1051.2,524.4 1053.7,524.1 1056.2,523.7 1058.6,523.4 1061.1,523.1 1063.6,522.7 1066.1,522.4 1068.6,522.2 1071.1,521.9 1073.6,521.6 1076.1,521.3 1078.5,521.1 1081.0,520.8 1083.5,520.6 1086.0,520.4 1088.5,520.1 1091.0,519.9 1093.5,519.7 1096.0,519.5 1098.5,519.3 1101.0,519.1 1103.5,519.0 1106.0,518.8 1108.5,518.6 1111.0,518.4 1113.5,518.3 1116.0,518.1 1118.5,518.0 1121.0,517.8 1123.5,517.7 1126.0,517.5 1128.5,517.4 1131.0,517.2 1133.5,517.1 1136.0,517.0 1138.5,516.8 1141.0,516.7 1143.5,516.6 1146.0,516.4 1148.5,516.3 1151.0,516.2 1153.5,516.0 1156.0,515.9 1158.5,515.7 1161.0,515.6 1163.5,515.5 1166.0,515.3 1168.5,515.2 1171.0,515.0 1173.5,514.9 1176.0,514.7 1178.5,514.6 1181.0,514.4 1183.5,514.2 1186.0,514.1 1188.5,513.9 1191.0,513.7 1193.5,513.5 1196.0,513.3 1198.5,513.1 1201.0,512.9 1203.5,512.7 1206.0,512.5 1208.5,512.2 1211.0,512.0 1213.5,511.8 1216.0,511.5 1218.5,511.3 1221.0,511.1 1223.5,510.8 1226.0,510.5 1228.5,510.3 1230.9,510.0 1233.4,509.7 1235.9,509.5 1238.4,509.2 1240.9,508.9 1243.4,508.6 1245.9,508.3 1248.4,508.0 1250.9,507.8 1253.3,507.5 1255.8,507.2 1258.3,506.9 1260.8,506.6 1263.3,506.2 1265.8,505.9 1268.3,505.6 1270.7,505.3 1273.2,505.0 1275.7,504.7 1278.2,504.4 1280.7,504.1 1283.2,503.7 1285.7,503.4 1288.1,503.1 1290.6,502.8 1293.1,502.5 1295.6,502.1 1298.1,501.8 1300.6,501.5 1303.0,501.2 1305.5,500.8 1308.0,500.5 1310.5,500.2 1313.0,499.9 1315.5,499.6 1318.0,499.2 1320.4,498.9 1322.9,498.6 1325.4,498.3 1327.9,498.0 1330.4,497.7 1332.9,497.3 1335.4,497.0 1337.8,496.7 1340.3,496.4 1342.8,496.1 1345.3,495.8 1347.8,495.5 1350.3,495.2 1352.8,494.9 1355.3,494.7 1357.7,494.4 1360.2,494.1 1362.7,493.8 1365.2,493.5 1367.7,493.3 1370.2,493.0 1372.7,492.7 1375.2,492.5 1377.7,492.2 1380.2,492.0 1382.7,491.7 1385.1,491.5 1387.6,491.2 1390.1,491.0 1392.6,490.8 1395.1,490.6 1397.6,490.4 1400.1,490.1 1402.6,489.9 1405.1,489.7 1407.6,489.6 1410.1,489.4 1412.6,489.2 1415.1,489.0 1417.6,488.9 1420.1,488.7 1422.6,488.5 1425.1,488.4 1427.6,488.3 1430.1,488.1 1432.6,488.0 1435.1,487.9 1437.6,487.8 1440.1,487.7 1442.6,487.6 1445.1,487.5 1447.6,487.4 1450.1,487.4 1452.6,487.3 1455.1,487.3 1457.7,487.2 1460.2,487.2 1462.7,487.2 1465.2,487.2 1467.7,487.2 1470.2,487.2 1472.7,487.2 1475.2,487.2 1477.7,487.3 1480.2,487.3" stroke="#00AF68"/>
<path id="c_purple" d="M351.8,268.3 353.4,270.2 355.0,272.2 356.6,274.1 358.1,276.1 359.7,278.1 361.2,280.1 362.7,282.1 364.1,284.1 365.6,286.1 367.1,288.2 368.5,290.2 369.9,292.3 371.3,294.4 372.7,296.5 374.1,298.6 375.5,300.7 376.8,302.8 378.2,304.9 379.5,307.0 380.8,309.2 382.1,311.3 383.4,313.4 384.8,315.6 386.0,317.7 387.3,319.9 388.6,322.0 389.9,324.2 391.2,326.3 392.4,328.5 393.7,330.7 395.0,332.8 396.2,335.0 397.5,337.2 398.8,339.3 400.0,341.5 401.3,343.7 402.6,345.8 403.9,348.0 405.1,350.1 406.4,352.3 407.7,354.4 409.0,356.6 410.3,358.7 411.6,360.9 412.9,363.0 414.3,365.1 415.6,367.3 416.9,369.4 418.3,371.5 419.7,373.6 421.0,375.7 422.4,377.8 423.8,379.8 425.3,381.9 426.7,384.0 428.2,386.0 429.6,388.0 431.1,390.1 432.6,392.1 434.1,394.1 435.7,396.0 437.2,398.0 438.8,400.0 440.4,401.9 442.0,403.8 443.7,405.7 445.3,407.6 447.0,409.4 448.7,411.3 450.5,413.1 452.2,414.9 454.0,416.7 455.8,418.4 457.6,420.1 459.4,421.8 461.3,423.5 463.2,425.1 465.1,426.7 467.1,428.3 469.0,429.9 471.0,431.4 473.1,432.9 475.1,434.3 477.2,435.7 479.3,437.1 481.5,438.4 483.6,439.6 485.9,440.8 488.1,441.9 490.4,443.0 492.7,443.9 495.0,444.8 497.4,445.7 499.8,446.4 502.2,447.2 504.6,447.8 507.0,448.5 509.4,449.1 511.9,449.8 514.3,450.5 516.7,451.2 519.1,451.9 521.4,452.7 523.8,453.6 526.1,454.6 528.4,455.7 530.6,456.9 532.7,458.2 534.8,459.5 536.9,460.9 539.0,462.4 541.0,463.9 542.9,465.5 544.8,467.1 546.7,468.7 548.6,470.4 550.4,472.1 552.3,473.8 554.1,475.6 555.9,477.3 557.6,479.1 559.4,480.9 561.2,482.7 562.9,484.4 564.7,486.2 566.4,488.0 568.2,489.8 569.9,491.6 571.6,493.5 573.4,495.3 575.1,497.1 576.8,498.9 578.5,500.8 580.2,502.7 581.8,504.5 583.5,506.4 585.1,508.3 586.7,510.3 588.3,512.2 589.9,514.1 591.4,516.1 593.0,518.1 594.5,520.1 596.0,522.1 597.5,524.1 599.0,526.1 600.5,528.1 601.9,530.2 603.4,532.2 604.8,534.3 606.2,536.3 607.6,538.4 609.0,540.5 610.3,542.7 611.6,544.8 612.9,547.0 614.1,549.2 615.3,551.4 616.5,553.6 617.7,555.8 618.8,558.0 620.0,560.3 621.1,562.5 622.1,564.8 623.2,567.0 624.2,569.3 625.2,571.6 626.3,573.9 627.2,576.2 628.2,578.5 629.1,580.9 630.1,583.2 631.0,585.5 631.9,587.9 632.8,590.2 633.6,592.6 634.5,594.9 635.3,597.3 636.1,599.7 636.9,602.1 637.7,604.4 638.5,606.8 639.2,609.2 639.9,611.6 640.7,614.0 641.4,616.4 642.1,618.8 642.7,621.3 643.4,623.7 644.0,626.1 644.7,628.5 645.3,631.0 645.9,633.4 646.4,635.8 647.0,638.3 647.6,640.7 648.1,643.2 648.6,645.6 649.1,648.1 649.6,650.5 650.1,653.0 650.6,655.5 651.0,657.9 651.5,660.4 651.9,662.9 652.3,665.3 652.7,667.8 653.1,670.3 653.5,672.8 653.9,675.3 654.3,677.7 654.6,680.2 655.0,682.7 655.3,685.2 655.6,687.7 656.0,690.2 656.3,692.6 656.6,695.1 656.9,697.6 657.2,700.1 657.5,702.6 657.7,705.1 658.0,707.6 658.3,710.1 658.5,712.6 658.8,715.1 659.0,717.6 659.3,720.1 659.5,722.6 659.8,725.1 660.0,727.6 660.2,730.1 660.5,732.6 660.7,735.1 660.9,737.6 661.1,740.1 661.3,742.6 661.5,745.1 661.7,747.6 661.9,750.0 662.1,752.6 662.3,755.1 662.5,757.6 662.7,760.1 662.9,762.6 663.1,765.1 663.2,767.6 663.4,770.1 663.6,772.6 663.8,775.1 663.9,777.6 664.1,780.1 664.2,782.6 664.4,785.1 664.6,787.6 664.7,790.1 664.9,792.6 665.0,795.1 665.1,797.6 665.3,800.1 665.4,802.6 665.5,805.1 665.7,807.6 665.8,810.1 665.9,812.6 666.0,815.1 666.2,817.6 666.3,820.1 666.4,822.6 666.5,825.1 666.6,827.7 666.7,830.2 666.8,832.7 666.9,835.2 667.0,837.7 667.1,840.2 667.2,842.7 667.3,845.2 667.4,847.7 667.5,850.2 667.6,852.7 667.6,855.2 667.7,857.7 667.8,860.2 667.9,862.7 667.9,865.2 668.0,867.8 668.1,870.3 668.2,872.8 668.2,875.3 668.3,877.8 668.3,880.3 668.4,882.8 668.5,885.3 668.5,887.8 668.6,890.3 668.6,892.8 668.7,895.3 668.7,897.8 668.8,900.3 668.8,902.9 668.9,905.4 668.9,907.9 668.9,910.4 669.0,912.9 669.0,915.4 669.0,917.9 669.1,920.4 669.1,922.9 669.1,925.4 669.2,927.9 669.2,930.4 669.2,933.0 669.3,935.5 669.3,938.0 669.3,940.5 669.3,943.0 669.3,945.5 669.4,948.0 669.4,950.5 669.4,953.0 669.4,955.5 669.4,958.0 669.4,960.5 669.5,963.0 669.5,965.6 669.5,968.1 669.5,970.6 669.5,973.1 669.5,975.6 669.5,978.1 669.5,980.6 669.5,983.1 669.5,985.6 669.5,988.1 669.5,990.6 669.5,993.1 669.6,995.6 669.6,998.2 669.6,1000.7 669.6,1003.2 669.6,1005.7 669.6,1008.2 669.6,1010.7 669.6,1013.2 669.6,1015.7 669.6,1018.2 669.6,1020.7 669.6,1023.2 669.5,1025.7 669.5,1028.3 669.5,1030.8 669.5,1033.3 669.5,1035.8 669.5,1038.3 669.5,1040.8 669.5,1043.3 669.5,1045.8 669.5,1048.3 669.5,1050.8 669.5,1053.3 669.5,1055.8 669.5,1058.3 669.5,1060.9 669.5,1063.4 669.5,1065.9 669.5,1068.4 669.5,1070.9 669.5,1073.4 669.5,1075.9 669.5,1078.4 669.5,1080.9 669.5,1083.4 669.5,1085.9 669.5,1088.4 669.5,1091.0 669.5,1093.5 669.5,1096.0 669.5,1098.5 669.5,1101.0 669.5,1103.5 669.5,1106.0 669.6,1103.5 669.6,1101.0 669.7,1098.5 669.8,1096.0 669.8,1093.5 669.9,1091.0 670.0,1088.5 670.0,1085.9 670.1,1083.4 670.1,1080.9 670.2,1078.4 670.2,1075.9 670.2,1073.4 670.3,1070.9 670.3,1068.4 670.3,1065.9 670.4,1063.4 670.4,1060.9 670.4,1058.4 670.4,1055.9 670.5,1053.3 670.5,1050.8 670.5,1048.3 670.5,1045.8 670.5,1043.3 670.5,1040.8 670.6,1038.3 670.6,1035.8 670.6,1033.3 670.6,1030.8 670.6,1028.3 670.6,1025.8 670.6,1023.3 670.6,1020.7 670.6,1018.2 670.6,1015.7 670.6,1013.2 670.6,1010.7 670.5,1008.2 670.5,1005.7 670.5,1003.2 670.5,1000.7 670.5,998.2 670.5,995.7 670.5,993.2 670.5,990.7 670.5,988.1 670.4,985.6 670.4,983.1 670.4,980.6 670.4,978.1 670.4,975.6 670.4,973.1 670.4,970.6 670.3,968.1 670.3,965.6 670.3,963.1 670.3,960.6 670.3,958.1 670.3,955.5 670.3,953.0 670.2,950.5 670.2,948.0 670.2,945.5 670.2,943.0 670.2,940.5 670.2,938.0 670.2,935.5 670.2,933.0 670.2,930.5 670.1,928.0 670.1,925.4 670.1,922.9 670.1,920.4 670.1,917.9 670.1,915.4 670.1,912.9 670.1,910.4 670.1,907.9 670.1,905.4 670.1,902.9 670.1,900.4 670.2,897.9 670.2,895.4 670.2,892.8 670.2,890.3 670.2,887.8 670.2,885.3 670.3,882.8 670.3,880.3 670.3,877.8 670.3,875.3 670.4,872.8 670.4,870.3 670.4,867.8 670.5,865.3 670.5,862.8 670.6,860.2 670.6,857.7 670.7,855.2 670.7,852.7 670.8,850.2 670.8,847.7 670.9,845.2 671.0,842.7 671.0,840.2 671.1,837.7 671.2,835.2 671.2,832.7 671.3,830.2 671.4,827.7 671.5,825.2 671.6,822.6 671.7,820.1 671.8,817.6 671.9,815.1 672.0,812.6 672.1,810.1 672.2,807.6 672.4,805.1 672.5,802.6 672.6,800.1 672.7,797.6 672.9,795.1 673.0,792.6 673.2,790.1 673.3,787.6 673.5,785.1 673.6,782.6 673.8,780.1 674.0,777.6 674.1,775.1 674.3,772.6 674.5,770.1 674.7,767.6 674.9,765.1 675.1,762.6 675.3,760.1 675.5,757.6 675.7,755.1 675.9,752.6 676.1,750.1 676.4,747.6 676.6,745.1 676.8,742.6 677.1,740.1 677.3,737.6 677.6,735.1 677.9,732.6 678.1,730.1 678.4,727.6 678.7,725.1 679.0,722.6 679.3,720.1 679.6,717.6 679.9,715.2 680.2,712.7 680.5,710.2 680.8,707.7 681.2,705.2 681.5,702.7 681.9,700.2 682.2,697.8 682.6,695.3 683.0,692.8 683.4,690.3 683.8,687.9 684.2,685.4 684.7,682.9 685.1,680.5 685.6,678.0 686.1,675.5 686.6,673.1 687.1,670.6 687.6,668.2 688.2,665.7 688.7,663.3 689.3,660.8 689.9,658.4 690.6,656.0 691.2,653.6 691.9,651.1 692.6,648.7 693.3,646.3 694.0,643.9 694.8,641.5 695.5,639.1 696.3,636.8 697.2,634.4 698.0,632.0 698.9,629.7 699.8,627.4 700.8,625.0 701.7,622.7 702.7,620.4 703.7,618.1 704.8,615.8 705.9,613.6 707.0,611.3 708.1,609.1 709.3,606.9 710.5,604.7 711.7,602.5 713.0,600.3 714.3,598.2 715.6,596.1 717.0,594.0 718.4,591.9 719.8,589.8 721.2,587.7 722.6,585.7 724.1,583.7 725.6,581.6 727.1,579.6 728.6,577.6 730.1,575.6 731.7,573.7 733.5,571.9 735.2,570.1 737.1,568.4 738.9,566.7 740.9,565.1 742.8,563.6 744.8,562.0 746.9,560.6 748.9,559.1 751.0,557.7 753.1,556.4 755.3,555.1 757.4,553.8 759.6,552.6 761.8,551.4 764.1,550.3 766.3,549.2 768.6,548.2 770.9,547.2 773.2,546.2 775.5,545.3 777.9,544.4 780.2,543.5 782.6,542.7 785.0,541.9 787.4,541.1 789.8,540.4 792.2,539.7 794.6,539.0 797.0,538.4 799.5,537.8 801.9,537.2 804.3,536.6 806.8,536.1 809.2,535.5 811.7,535.0 814.1,534.5 816.6,534.0 819.1,533.5 821.5,533.1 824.0,532.6 826.5,532.2 828.9,531.7 831.4,531.3 833.9,530.9 836.3,530.4 838.8,530.0 841.3,529.5 843.7,529.1 846.2,528.6 848.7,528.2 851.1,527.7 853.6,527.2 856.1,526.8 858.5,526.3 861.0,525.8 863.5,525.3 865.9,524.8 868.4,524.3 870.8,523.8 873.3,523.3 875.7,522.8 878.2,522.3 880.6,521.8 883.1,521.3 885.6,520.8 888.0,520.2 890.5,519.7 892.9,519.2 895.4,518.7 897.8,518.2 900.3,517.6 902.7,517.1 905.2,516.6 907.6,516.1 910.1,515.5 912.5,515.0 915.0,514.5 917.4,513.9 919.9,513.4 922.3,512.9 924.8,512.4 927.3,511.9 929.7,511.3 932.2,510.8 934.6,510.3 937.1,509.8 939.5,509.3 942.0,508.8 944.4,508.3 946.9,507.8 949.4,507.3 951.8,506.8 954.3,506.3 956.7,505.8 959.2,505.4 961.7,504.9 964.1,504.4 966.6,503.9 969.1,503.5 971.5,503.0 974.0,502.6 976.5,502.1 978.9,501.7 981.4,501.3 983.9,500.9 986.3,500.5 988.8,500.0 991.3,499.6 993.8,499.3 996.3,498.9 998.7,498.5 1001.2,498.1 1003.7,497.8 1006.2,497.4 1008.7,497.1 1011.1,496.8 1013.6,496.4 1016.1,496.1 1018.6,495.8 1021.1,495.5 1023.6,495.3 1026.1,495.0 1028.6,494.7 1031.1,494.5 1033.6,494.2 1036.1,494.0 1038.6,493.8 1041.1,493.5 1043.6,493.3 1046.1,493.1 1048.6,492.9 1051.1,492.8 1053.6,492.6 1056.1,492.4 1058.6,492.2 1061.1,492.1 1063.6,491.9 1066.1,491.8 1068.6,491.7 1071.1,491.5 1073.6,491.4 1076.1,491.3 1078.6,491.2 1081.1,491.1 1083.6,491.0 1086.1,490.9 1088.6,490.8 1091.1,490.7 1093.6,490.6 1096.1,490.5 1098.7,490.5 1101.2,490.4 1103.7,490.3 1106.2,490.3 1108.7,490.2 1111.2,490.2 1113.7,490.1 1116.2,490.1 1118.7,490.0 1121.2,490.0 1123.7,489.9 1126.2,489.9 1128.7,489.9 1131.3,489.8 1133.8,489.8 1136.3,489.8 1138.8,489.7 1141.3,489.7 1143.8,489.7 1146.3,489.7 1148.8,489.6 1151.3,489.6 1153.8,489.6 1156.3,489.6 1158.8,489.6 1161.3,489.5 1163.9,489.5 1166.4,489.5 1168.9,489.5 1171.4,489.4 1173.9,489.4 1176.4,489.4 1178.9,489.4 1181.4,489.3 1183.9,489.3 1186.4,489.3 1188.9,489.2 1191.4,489.2 1193.9,489.2 1196.5,489.1 1199.0,489.1 1201.5,489.0 1204.0,489.0 1206.5,488.9 1209.0,488.9 1211.5,488.8 1214.0,488.8 1216.5,488.7 1219.0,488.6 1221.5,488.5 1224.0,488.5 1226.5,488.4 1229.0,488.3 1231.5,488.2 1234.1,488.1 1236.6,488.1 1239.1,488.0 1241.6,487.9 1244.1,487.8 1246.6,487.7 1249.1,487.5 1251.6,487.4 1254.1,487.3 1256.6,487.2 1259.1,487.1 1261.6,487.0 1264.1,486.8 1266.6,486.7 1269.1,486.6 1271.6,486.4 1274.1,486.3 1276.6,486.1 1279.1,486.0 1281.6,485.8 1284.1,485.7 1286.7,485.5 1289.2,485.3 1291.7,485.2 1294.2,485.0 1296.7,484.8 1299.2,484.6 1301.7,484.5 1304.2,484.3 1306.7,484.1 1309.2,483.9 1311.7,483.7 1314.2,483.5 1316.7,483.3 1319.2,483.1 1321.7,482.8 1324.2,482.6 1326.7,482.4 1329.2,482.2 1331.6,481.9 1334.1,481.7 1336.6,481.5 1339.1,481.2 1341.6,481.0 1344.1,480.7 1346.6,480.4 1349.1,480.2 1351.6,479.9 1354.1,479.6 1356.6,479.4 1359.1,479.1 1361.6,478.8 1364.1,478.5 1366.6,478.2 1369.1,478.0 1371.5,477.7 1374.0,477.4 1376.5,477.1 1379.0,476.8 1381.5,476.5 1384.0,476.2 1386.5,475.9 1389.0,475.6 1391.5,475.3 1394.0,475.0 1396.4,474.7 1398.9,474.4 1401.4,474.1 1403.9,473.8 1406.4,473.5 1408.9,473.2 1411.4,472.9 1413.9,472.6 1416.4,472.3 1418.9,472.0 1421.3,471.7 1423.8,471.4 1426.3,471.1 1428.8,470.8 1431.3,470.5 1433.8,470.2 1436.3,469.9 1438.8,469.6 1441.3,469.4 1443.8,469.1 1446.3,468.8 1448.8,468.5 1451.2,468.3 1453.7,468.0 1456.2,467.8 1458.7,467.5 1461.2,467.2 1463.7,467.0 1466.2,466.8 1468.7,466.5 1471.2,466.3 1473.7,466.1 1476.2,465.8 1478.7,465.6 1481.2,465.4 1483.7,465.2 1486.2,465.0" stroke="#C479E4"/>
<path id="c_orange" d="M351.6,307.1 352.8,309.3 354.0,311.5 355.2,313.7 356.4,315.9 357.6,318.1 358.9,320.3 360.1,322.5 361.4,324.6 362.7,326.8 364.0,329.0 365.3,331.1 366.6,333.2 367.9,335.4 369.2,337.5 370.6,339.6 371.9,341.7 373.3,343.8 374.7,345.9 376.1,348.0 377.5,350.1 378.9,352.2 380.3,354.3 381.7,356.3 383.1,358.4 384.6,360.5 386.0,362.5 387.5,364.6 388.9,366.6 390.4,368.6 391.9,370.7 393.4,372.7 394.9,374.7 396.4,376.7 397.9,378.7 399.4,380.7 400.9,382.7 402.4,384.7 403.9,386.7 405.5,388.7 407.0,390.7 408.5,392.7 410.1,394.7 411.6,396.6 413.2,398.6 414.7,400.6 416.3,402.5 417.9,404.5 419.4,406.5 421.0,408.4 422.6,410.4 424.2,412.3 425.7,414.3 427.3,416.2 428.9,418.2 430.5,420.1 432.1,422.1 433.7,424.0 435.3,426.0 436.9,427.9 438.4,429.8 440.0,431.8 441.6,433.7 443.2,435.6 444.8,437.6 446.4,439.5 448.0,441.4 449.6,443.4 451.2,445.3 452.8,447.3 454.4,449.2 456.0,451.1 457.6,453.1 459.2,455.0 460.8,456.9 462.4,458.9 464.0,460.8 465.6,462.8 467.1,464.7 468.7,466.7 470.3,468.6 471.9,470.6 473.5,472.5 475.0,474.5 476.6,476.5 478.2,478.4 479.7,480.4 481.3,482.4 482.8,484.3 484.4,486.3 485.9,488.3 487.5,490.3 489.0,492.3 490.5,494.2 492.0,496.2 493.6,498.2 495.1,500.2 496.6,502.3 498.1,504.3 499.6,506.3 501.0,508.3 502.5,510.3 504.0,512.4 505.5,514.4 506.9,516.5 508.4,518.5 509.8,520.6 511.2,522.6 512.7,524.7 514.1,526.8 515.5,528.8 516.9,530.9 518.3,533.0 519.6,535.1 521.0,537.2 522.4,539.3 523.7,541.5 525.0,543.6 526.4,545.7 527.7,547.8 529.0,550.0 530.3,552.1 531.6,554.3 532.8,556.5 534.1,558.7 535.3,560.8 536.5,563.0 537.7,565.2 538.9,567.4 540.1,569.6 541.3,571.9 542.5,574.1 543.6,576.3 544.7,578.6 545.8,580.8 546.9,583.1 548.0,585.3 549.1,587.6 550.1,589.9 551.2,592.2 552.2,594.5 553.2,596.8 554.2,599.1 555.2,601.4 556.2,603.7 557.1,606.0 558.1,608.3 559.0,610.7 559.9,613.0 560.8,615.4 561.7,617.7 562.6,620.1 563.4,622.4 564.3,624.8 565.1,627.1 565.9,629.5 566.7,631.9 567.5,634.3 568.3,636.7 569.1,639.1 569.8,641.4 570.6,643.8 571.3,646.2 572.0,648.7 572.7,651.1 573.4,653.5 574.1,655.9 574.8,658.3 575.4,660.7 576.1,663.2 576.7,665.6 577.3,668.0 577.9,670.5 578.5,672.9 579.1,675.3 579.7,677.8 580.3,680.2 580.8,682.7 581.3,685.1 581.9,687.6 582.4,690.0 582.9,692.5 583.4,694.9 583.9,697.4 584.4,699.9 584.8,702.3 585.3,704.8 585.7,707.3 586.2,709.7 586.6,712.2 587.0,714.7 587.4,717.2 587.8,719.7 588.2,722.1 588.6,724.6 588.9,727.1 589.3,729.6 589.6,732.1 590.0,734.6 590.3,737.0 590.6,739.5 590.9,742.0 591.2,744.5 591.5,747.0 591.8,749.5 592.1,752.0 592.3,754.5 592.6,757.0 592.8,759.5 593.1,762.0 593.3,764.5 593.5,767.0 593.8,769.5 594.0,772.0 594.2,774.5 594.4,777.0 594.6,779.5 594.7,782.0 594.9,784.5 595.1,787.0 595.2,789.5 595.4,792.0 595.5,794.5 595.7,797.0 595.8,799.5 595.9,802.0 596.1,804.6 596.2,807.1 596.3,809.6 596.4,812.1 596.5,814.6 596.6,817.1 596.7,819.6 596.8,822.1 596.8,824.6 596.9,827.1 597.0,829.6 597.1,832.1 597.1,834.7 597.2,837.2 597.2,839.7 597.3,842.2 597.3,844.7 597.4,847.2 597.4,849.7 597.4,852.2 597.5,854.7 597.5,857.2 597.5,859.8 597.5,862.3 597.6,864.8 597.6,867.3 597.6,869.8 597.6,872.3 597.6,874.8 597.6,877.3 597.6,879.8 597.6,882.3 597.6,884.9 597.6,887.4 597.6,889.9 597.6,892.4 597.6,894.9 597.6,897.4 597.6,899.9 597.6,902.4 597.6,904.9 597.5,907.4 597.5,910.0 597.5,912.5 597.5,915.0 597.5,917.5 597.5,920.0 597.5,922.5 597.4,925.0 597.4,927.5 597.4,930.0 597.4,932.5 597.4,935.1 597.4,937.6 597.4,940.1 597.3,942.6 597.3,945.1 597.3,947.6 597.3,950.1 597.3,952.6 597.3,955.1 597.3,957.6 597.3,960.2 597.3,962.7 597.3,965.2 597.3,967.7 597.3,970.2 597.3,972.7 597.3,975.2 597.3,977.7 597.4,980.2 597.4,982.7 597.4,985.3 597.4,987.8 597.5,990.3 597.5,992.8 597.5,995.3 597.6,997.8 597.6,1000.3 597.7,1002.8 597.7,1005.3 597.8,1007.8 597.8,1010.3 597.9,1012.9 598.0,1015.4 598.1,1017.9 598.1,1020.4 598.2,1022.9 598.3,1025.4 598.4,1027.9 598.5,1030.4 598.6,1032.9 598.7,1035.4 598.9,1037.9 599.0,1040.4 599.1,1043.0 599.2,1045.5 599.4,1048.0 599.5,1050.5 599.7,1053.0 599.9,1055.5 600.0,1058.0 600.2,1060.5 600.4,1063.0 600.5,1060.5 600.7,1058.0 600.8,1055.5 600.9,1053.0 601.1,1050.5 601.2,1048.0 601.3,1045.5 601.4,1043.0 601.5,1040.4 601.6,1037.9 601.7,1035.4 601.8,1032.9 601.9,1030.4 602.0,1027.9 602.1,1025.4 602.1,1022.9 602.2,1020.4 602.3,1017.9 602.3,1015.4 602.4,1012.9 602.5,1010.3 602.5,1007.8 602.6,1005.3 602.6,1002.8 602.7,1000.3 602.7,997.8 602.8,995.3 602.8,992.8 602.8,990.3 602.9,987.8 602.9,985.3 602.9,982.8 603.0,980.2 603.0,977.7 603.0,975.2 603.0,972.7 603.1,970.2 603.1,967.7 603.1,965.2 603.1,962.7 603.1,960.2 603.1,957.7 603.1,955.1 603.2,952.6 603.2,950.1 603.2,947.6 603.2,945.1 603.2,942.6 603.2,940.1 603.2,937.6 603.2,935.1 603.2,932.6 603.2,930.1 603.2,927.5 603.2,925.0 603.2,922.5 603.3,920.0 603.3,917.5 603.3,915.0 603.3,912.5 603.3,910.0 603.3,907.5 603.3,905.0 603.3,902.5 603.3,899.9 603.3,897.4 603.4,894.9 603.4,892.4 603.4,889.9 603.4,887.4 603.4,884.9 603.5,882.4 603.5,879.9 603.5,877.4 603.5,874.9 603.6,872.3 603.6,869.8 603.6,867.3 603.7,864.8 603.7,862.3 603.8,859.8 603.8,857.3 603.9,854.8 603.9,852.3 604.0,849.8 604.0,847.3 604.1,844.7 604.2,842.2 604.2,839.7 604.3,837.2 604.4,834.7 604.5,832.2 604.6,829.7 604.7,827.2 604.7,824.7 604.8,822.2 604.9,819.7 605.1,817.2 605.2,814.7 605.3,812.1 605.4,809.6 605.5,807.1 605.7,804.6 605.8,802.1 605.9,799.6 606.1,797.1 606.2,794.6 606.4,792.1 606.6,789.6 606.7,787.1 606.9,784.6 607.1,782.1 607.3,779.6 607.5,777.1 607.7,774.6 607.9,772.1 608.1,769.6 608.3,767.1 608.5,764.6 608.7,762.1 609.0,759.6 609.2,757.1 609.5,754.6 609.7,752.1 610.0,749.6 610.3,747.1 610.6,744.6 610.8,742.1 611.1,739.6 611.4,737.1 611.7,734.6 612.1,732.2 612.4,729.7 612.7,727.2 613.1,724.7 613.4,722.2 613.8,719.7 614.2,717.3 614.6,714.8 615.0,712.3 615.4,709.8 615.8,707.4 616.3,704.9 616.7,702.4 617.2,699.9 617.7,697.5 618.2,695.0 618.7,692.6 619.2,690.1 619.8,687.7 620.4,685.2 620.9,682.8 621.5,680.3 622.2,677.9 622.8,675.5 623.4,673.1 624.1,670.6 624.8,668.2 625.5,665.8 626.2,663.4 627.0,661.0 627.8,658.6 628.6,656.3 629.4,653.9 630.2,651.5 631.0,649.2 631.9,646.8 632.8,644.5 633.7,642.1 634.7,639.8 635.6,637.5 636.6,635.2 637.6,632.9 638.6,630.6 639.7,628.3 640.7,626.0 641.8,623.8 642.9,621.5 644.1,619.3 645.2,617.0 646.4,614.8 647.6,612.6 648.8,610.4 650.0,608.2 651.3,606.1 652.6,603.9 653.9,601.8 655.2,599.6 656.5,597.5 657.9,595.4 659.3,593.3 660.7,591.2 662.1,589.2 663.6,587.1 665.1,585.1 666.6,583.1 668.1,581.1 669.6,579.1 671.2,577.2 672.8,575.2 674.4,573.3 676.0,571.4 677.7,569.5 679.4,567.7 681.1,565.8 682.8,564.0 684.6,562.2 686.3,560.4 688.1,558.7 690.0,557.0 691.8,555.3 693.7,553.6 695.6,551.9 697.5,550.3 699.4,548.7 701.4,547.1 703.4,545.6 705.4,544.1 707.4,542.6 709.4,541.2 711.5,539.8 713.6,538.4 715.7,537.0 717.9,535.7 720.0,534.4 722.2,533.2 724.4,532.0 726.6,530.8 728.8,529.6 731.1,528.5 733.4,527.5 735.7,526.4 738.0,525.4 740.3,524.5 742.6,523.5 744.9,522.6 747.3,521.7 749.6,520.9 752.0,520.1 754.4,519.3 756.8,518.5 759.2,517.8 761.6,517.0 764.0,516.4 766.4,515.7 768.8,515.0 771.3,514.4 773.7,513.8 776.2,513.2 778.6,512.7 781.1,512.1 783.5,511.6 786.0,511.1 788.4,510.6 790.9,510.1 793.4,509.7 795.8,509.2 798.3,508.8 800.8,508.4 803.2,508.0 805.7,507.6 808.2,507.2 810.7,506.8 813.2,506.4 815.6,506.0 818.1,505.7 820.6,505.3 823.1,505.0 825.6,504.6 828.1,504.3 830.6,504.0 833.0,503.7 835.5,503.3 838.0,503.0 840.5,502.7 843.0,502.4 845.5,502.0 848.0,501.7 850.5,501.4 853.0,501.1 855.4,500.8 857.9,500.4 860.4,500.1 862.9,499.8 865.4,499.5 867.9,499.2 870.4,498.8 872.9,498.5 875.4,498.2 877.8,497.9 880.3,497.6 882.8,497.2 885.3,496.9 887.8,496.6 890.3,496.3 892.8,496.0 895.3,495.7 897.8,495.4 900.2,495.0 902.7,494.7 905.2,494.4 907.7,494.1 910.2,493.8 912.7,493.5 915.2,493.2 917.7,492.9 920.2,492.6 922.7,492.3 925.2,492.0 927.6,491.7 930.1,491.4 932.6,491.1 935.1,490.8 937.6,490.5 940.1,490.2 942.6,489.9 945.1,489.6 947.6,489.3 950.1,489.0 952.6,488.7 955.1,488.4 957.5,488.1 960.0,487.9 962.5,487.6 965.0,487.3 967.5,487.0 970.0,486.7 972.5,486.5 975.0,486.2 977.5,485.9 980.0,485.6 982.5,485.4 985.0,485.1 987.5,484.8 990.0,484.6 992.5,484.3 995.0,484.1 997.5,483.8 1000.0,483.5 1002.5,483.3 1005.0,483.0 1007.4,482.8 1009.9,482.6 1012.4,482.3 1014.9,482.1 1017.4,481.8 1019.9,481.6 1022.4,481.4 1024.9,481.1 1027.4,480.9 1029.9,480.7 1032.4,480.4 1034.9,480.2 1037.4,480.0 1039.9,479.8 1042.4,479.6 1044.9,479.4 1047.4,479.1 1049.9,478.9 1052.4,478.7 1054.9,478.5 1057.4,478.3 1059.9,478.1 1062.4,478.0 1064.9,477.8 1067.4,477.6 1069.9,477.4 1072.4,477.2 1075.0,477.0 1077.5,476.9 1080.0,476.7 1082.5,476.5 1085.0,476.4 1087.5,476.2 1090.0,476.0 1092.5,475.9 1095.0,475.7 1097.5,475.6 1100.0,475.4 1102.5,475.3 1105.0,475.2 1107.5,475.0 1110.0,474.9 1112.5,474.8 1115.0,474.7 1117.5,474.5 1120.0,474.4 1122.5,474.3 1125.1,474.2 1127.6,474.1 1130.1,474.0 1132.6,473.9 1135.1,473.8 1137.6,473.7 1140.1,473.6 1142.6,473.6 1145.1,473.5 1147.6,473.4 1150.1,473.3 1152.6,473.3 1155.2,473.2 1157.7,473.2 1160.2,473.1 1162.7,473.1 1165.2,473.0 1167.7,473.0 1170.2,472.9 1172.7,472.9 1175.2,472.9 1177.7,472.9 1180.2,472.8 1182.8,472.8 1185.3,472.8 1187.8,472.8 1190.3,472.8 1192.8,472.8 1195.3,472.8 1197.8,472.9 1200.3,472.9 1202.8,472.9 1205.3,472.9 1207.8,472.9 1210.4,473.0 1212.9,473.0 1215.4,473.1 1217.9,473.1 1220.4,473.2 1222.9,473.2 1225.4,473.3 1227.9,473.3 1230.4,473.4 1232.9,473.5 1235.4,473.5 1237.9,473.6 1240.5,473.7 1243.0,473.7 1245.5,473.8 1248.0,473.9 1250.5,474.0 1253.0,474.1 1255.5,474.1 1258.0,474.2 1260.5,474.3 1263.0,474.4 1265.5,474.5 1268.0,474.6 1270.6,474.7 1273.1,474.8 1275.6,474.9 1278.1,475.0 1280.6,475.1 1283.1,475.2 1285.6,475.3 1288.1,475.4 1290.6,475.5 1293.1,475.6 1295.6,475.7 1298.1,475.8 1300.6,475.9 1303.1,476.0 1305.7,476.1 1308.2,476.2 1310.7,476.3 1313.2,476.4 1315.7,476.5 1318.2,476.6 1320.7,476.7 1323.2,476.8 1325.7,476.8 1328.2,476.9 1330.7,477.0 1333.2,477.1 1335.7,477.2 1338.3,477.3 1340.8,477.4 1343.3,477.5 1345.8,477.5 1348.3,477.6 1350.8,477.7 1353.3,477.8 1355.8,477.8 1358.3,477.9 1360.8,478.0 1363.3,478.0 1365.8,478.1 1368.4,478.1 1370.9,478.2 1373.4,478.2 1375.9,478.3 1378.4,478.3 1380.9,478.4 1383.4,478.4 1385.9,478.4 1388.4,478.5 1390.9,478.5 1393.4,478.5 1396.0,478.5 1398.5,478.5 1401.0,478.5 1403.5,478.5 1406.0,478.5 1408.5,478.5 1411.0,478.5 1413.5,478.5 1416.0,478.5 1418.5,478.4 1421.0,478.4 1423.6,478.4 1426.1,478.3 1428.6,478.3 1431.1,478.2 1433.6,478.1 1436.1,478.1 1438.6,478.0 1441.1,477.9 1443.6,477.8 1446.1,477.7 1448.6,477.6 1451.1,477.5 1453.7,477.4 1456.2,477.3 1458.7,477.1 1461.2,477.0 1463.7,476.9 1466.2,476.7 1468.7,476.5 1471.2,476.4 1473.7,476.2 1476.2,476.0 1478.7,475.8 1481.2,475.6 1483.7,475.4 1486.2,475.2" stroke="#DC9B00"/>
</defs>
<g fill="none" stroke-width="5.4" stroke-linecap="round" stroke-linejoin="round">
<g><use href="#c_gray" x="-1.8" y="-1.8"/><use href="#c_gray" x="1.8" y="-1.8"/><use href="#c_gray" x="-1.8" y="1.8"/><use href="#c_gray" x="1.8" y="1.8"/><circle cx="364.5" cy="214.6" r="4.6" fill="#757575" stroke="none"/><circle cx="809.4" cy="1089.0" r="4.6" fill="#757575" stroke="none"/><circle cx="1499.3" cy="508.4" r="4.6" fill="#757575" stroke="none"/></g>
<g stroke-width="9"><polygon points="819.2,772 833.2,772 830,815.5 815,815.5" fill="#757575" stroke="none"/></g>
<g><use href="#c_red" x="-1.8" y="-1.8"/><use href="#c_red" x="1.8" y="-1.8"/><use href="#c_red" x="-1.8" y="1.8"/><use href="#c_red" x="1.8" y="1.8"/><circle cx="625.6" cy="385.1" r="4.6" fill="#FF4040" stroke="none"/><circle cx="1016.5" cy="1054.0" r="4.6" fill="#FF4040" stroke="none"/><circle cx="1498.3" cy="495.8" r="4.6" fill="#FF4040" stroke="none"/></g>
<g><use href="#c_blue" x="-1.8" y="-1.8"/><use href="#c_blue" x="1.8" y="-1.8"/><use href="#c_blue" x="-1.8" y="1.8"/><use href="#c_blue" x="1.8" y="1.8"/><circle cx="374.7" cy="238.1" r="4.6" fill="#0070E6" stroke="none"/><circle cx="766.6" cy="1106.0" r="4.6" fill="#0070E6" stroke="none"/><circle cx="1509.3" cy="456.5" r="4.6" fill="#0070E6" stroke="none"/></g>
<g><use href="#c_green" x="-1.8" y="-1.8"/><use href="#c_green" x="1.8" y="-1.8"/><use href="#c_green" x="-1.8" y="1.8"/><use href="#c_green" x="1.8" y="1.8"/><circle cx="346.0" cy="258.3" r="4.6" fill="#00AF68" stroke="none"/><circle cx="703.3" cy="1106.0" r="4.6" fill="#00AF68" stroke="none"/><circle cx="1480.2" cy="487.3" r="4.6" fill="#00AF68" stroke="none"/></g>
<g><use href="#c_purple" x="-1.8" y="-1.8"/><use href="#c_purple" x="1.8" y="-1.8"/><use href="#c_purple" x="-1.8" y="1.8"/><use href="#c_purple" x="1.8" y="1.8"/><circle cx="351.8" cy="268.3" r="4.6" fill="#C479E4" stroke="none"/><circle cx="669.5" cy="1106.0" r="4.6" fill="#C479E4" stroke="none"/><circle cx="1486.2" cy="465.0" r="4.6" fill="#C479E4" stroke="none"/></g>
<g><use href="#c_orange" x="-1.8" y="-1.8"/><use href="#c_orange" x="1.8" y="-1.8"/><use href="#c_orange" x="-1.8" y="1.8"/><use href="#c_orange" x="1.8" y="1.8"/><circle cx="351.6" cy="307.1" r="4.6" fill="#DC9B00" stroke="none"/><circle cx="600.4" cy="1063.0" r="4.6" fill="#DC9B00" stroke="none"/><circle cx="1486.2" cy="475.2" r="4.6" fill="#DC9B00" stroke="none"/></g>
</g>
<g fill="#000"><rect x="197" y="95" width="1414" height="10"/><rect x="204" y="95" width="9" height="1137"/><rect x="1601" y="95" width="10" height="1155"/><rect x="204" y="1223" width="1407" height="9"/></g>
<g stroke="#000" stroke-width="9">
<line x1="208.5" y1="1227.5" x2="208.5" y2="1250"/>
<line x1="383.2" y1="1227.5" x2="383.2" y2="1250"/>
<line x1="557.9" y1="1227.5" x2="557.9" y2="1250"/>
<line x1="732.5" y1="1227.5" x2="732.5" y2="1250"/>
<line x1="907.2" y1="1227.5" x2="907.2" y2="1250"/>
<line x1="1081.9" y1="1227.5" x2="1081.9" y2="1250"/>
<line x1="1256.6" y1="1227.5" x2="1256.6" y2="1250"/>
<line x1="1431.3" y1="1227.5" x2="1431.3" y2="1250"/>
<line x1="1605.9" y1="1227.5" x2="1605.9" y2="1250"/>
<line x1="295.8" y1="1227.5" x2="295.8" y2="1239"/>
<line x1="470.5" y1="1227.5" x2="470.5" y2="1239"/>
<line x1="645.2" y1="1227.5" x2="645.2" y2="1239"/>
<line x1="819.9" y1="1227.5" x2="819.9" y2="1239"/>
<line x1="994.6" y1="1227.5" x2="994.6" y2="1239"/>
<line x1="1169.2" y1="1227.5" x2="1169.2" y2="1239"/>
<line x1="1343.9" y1="1227.5" x2="1343.9" y2="1239"/>
<line x1="1518.6" y1="1227.5" x2="1518.6" y2="1239"/>
<line x1="208.5" y1="202.5" x2="186" y2="202.5"/>
<line x1="208.5" y1="407.5" x2="186" y2="407.5"/>
<line x1="208.5" y1="612.5" x2="186" y2="612.5"/>
<line x1="208.5" y1="817.5" x2="186" y2="817.5"/>
<line x1="208.5" y1="1022.5" x2="186" y2="1022.5"/>
<line x1="208.5" y1="1227.5" x2="186" y2="1227.5"/>
<line x1="208.5" y1="305.0" x2="197" y2="305.0"/>
<line x1="208.5" y1="510.0" x2="197" y2="510.0"/>
<line x1="208.5" y1="715.0" x2="197" y2="715.0"/>
<line x1="208.5" y1="920.0" x2="197" y2="920.0"/>
<line x1="208.5" y1="1125.0" x2="197" y2="1125.0"/>
</g>
<g font-size="52">
<text transform="translate(208.5,1306.5) scale(1,1.04)" text-anchor="middle">-2.2</text>
<text transform="translate(383.2,1306.5) scale(1,1.04)" text-anchor="middle">-2.0</text>
<text transform="translate(557.9,1306.5) scale(1,1.04)" text-anchor="middle">-1.8</text>
<text transform="translate(732.5,1306.5) scale(1,1.04)" text-anchor="middle">-1.6</text>
<text transform="translate(907.2,1306.5) scale(1,1.04)" text-anchor="middle">-1.4</text>
<text transform="translate(1081.9,1306.5) scale(1,1.04)" text-anchor="middle">-1.2</text>
<text transform="translate(1256.6,1306.5) scale(1,1.04)" text-anchor="middle">-1.0</text>
<text transform="translate(1431.3,1306.5) scale(1,1.04)" text-anchor="middle">-0.8</text>
<text transform="translate(1605.9,1306.5) scale(1,1.04)" text-anchor="middle">-0.6</text>
<text transform="translate(171.5,219.3) scale(1,1.04)" text-anchor="end">-3</text>
<text transform="translate(171.5,424.3) scale(1,1.04)" text-anchor="end">-4</text>
<text transform="translate(171.5,629.3) scale(1,1.04)" text-anchor="end">-5</text>
<text transform="translate(171.5,834.3) scale(1,1.04)" text-anchor="end">-6</text>
<text transform="translate(171.5,1039.3) scale(1,1.04)" text-anchor="end">-7</text>
<text transform="translate(171.5,1244.3) scale(1,1.04)" text-anchor="end">-8</text>
</g>
<g font-size="52">
<line x1="1162.5" y1="690.3" x2="1281.5" y2="690.3" stroke="#757575" stroke-width="9" stroke-linecap="round"/>
<text transform="translate(1297,709.3) scale(1,1.04)">[Emim]BF<tspan font-size="36" dx="3" dy="13.5">4</tspan></text>
<line x1="1162.5" y1="769.2" x2="1281.5" y2="769.2" stroke="#FF4040" stroke-width="9" stroke-linecap="round"/>
<text transform="translate(1297,788.2) scale(1,1.04)">[Bmim]BF<tspan font-size="36" dx="3" dy="13.5">4</tspan></text>
<line x1="1162.5" y1="847.2" x2="1281.5" y2="847.2" stroke="#0070E6" stroke-width="9" stroke-linecap="round"/>
<text transform="translate(1297,866.2) scale(1,1.04)">[Hmim]BF<tspan font-size="36" dx="3" dy="13.5">4</tspan></text>
<line x1="1162.5" y1="926.2" x2="1281.5" y2="926.2" stroke="#00AF68" stroke-width="9" stroke-linecap="round"/>
<text transform="translate(1297,945.2) scale(1,1.04)">[Omim]BF<tspan font-size="36" dx="3" dy="13.5">4</tspan></text>
<line x1="1162.5" y1="1004.3" x2="1281.5" y2="1004.3" stroke="#C479E4" stroke-width="9" stroke-linecap="round"/>
<text transform="translate(1297,1023.3) scale(1,1.04)">[Dmim]BF<tspan font-size="36" dx="3" dy="13.5">4</tspan></text>
<line x1="1162.5" y1="1083.2" x2="1281.5" y2="1083.2" stroke="#DC9B00" stroke-width="9" stroke-linecap="round"/>
<text transform="translate(1297,1102.2) scale(1,1.04)">[Bu<tspan font-size="36" dx="0.5" dy="13.5">4</tspan><tspan dx="1.5" dy="-13.5">N]BF</tspan><tspan font-size="36" dx="0" dy="13.5">4</tspan></text>
</g>
<text font-size="70" transform="translate(545,1380.5) scale(0.988,1.04)">Potential (V vs. Fc/Fc<tspan font-size="49" dy="-28">+</tspan><tspan dy="28">)</tspan></text>
<text font-size="70" transform="translate(99,856) rotate(-90)">log(i/A)</text>
</svg>
</body></html>
